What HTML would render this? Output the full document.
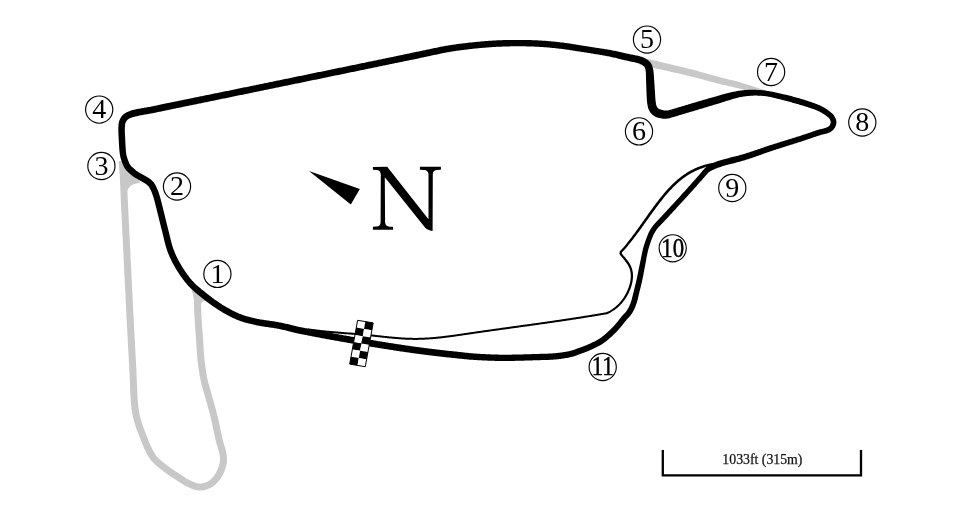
<!DOCTYPE html>
<html><head><meta charset="utf-8"><style>
html,body{margin:0;padding:0;background:#fff;}
body{width:960px;height:511px;overflow:hidden;}
svg{display:block;}
svg{will-change:transform;}
</style></head><body>
<svg width="960" height="511" viewBox="0 0 960 511">
<rect width="960" height="511" fill="#fff"/>
<path d="M118.61,161.28 L118.69,162.27 L118.77,163.25 L118.85,164.22 L118.93,165.18 L119.02,166.13 L119.10,167.08 L119.18,168.04 L119.26,169.00 L119.34,169.98 L119.41,170.97 L119.49,171.99 L119.56,173.03 L119.64,174.10 L119.71,175.22 L119.76,176.06 L119.81,176.91 L119.85,177.76 L119.90,178.62 L119.94,179.48 L119.98,180.35 L120.02,181.23 L120.06,182.13 L120.10,183.03 L120.14,183.95 L120.17,184.88 L120.21,185.82 L120.25,186.79 L120.29,187.77 L120.33,188.77 L120.37,189.80 L120.41,190.84 L120.45,191.91 L120.49,193.00 L120.54,194.12 L120.59,195.27 L120.64,196.45 L120.69,197.65 L120.75,198.89 L120.80,200.16 L120.84,200.89 L120.87,201.63 L120.91,202.40 L120.94,203.18 L120.98,203.97 L121.02,204.78 L121.06,205.61 L121.10,206.46 L121.14,207.32 L121.18,208.19 L121.22,209.08 L121.27,209.98 L121.31,210.89 L121.35,211.82 L121.40,212.76 L121.45,213.71 L121.49,214.67 L121.54,215.65 L121.59,216.63 L121.63,217.63 L121.68,218.64 L121.73,219.65 L121.78,220.68 L121.83,221.71 L121.88,222.75 L121.93,223.80 L121.98,224.85 L122.04,225.92 L122.09,226.99 L122.14,228.06 L122.19,229.14 L122.25,230.23 L122.30,231.32 L122.35,232.42 L122.41,233.52 L122.46,234.62 L122.51,235.73 L122.57,236.83 L122.62,237.95 L122.68,239.06 L122.73,240.17 L122.79,241.29 L122.84,242.40 L122.90,243.52 L122.95,244.64 L123.01,245.75 L123.06,246.86 L123.12,247.98 L123.17,249.09 L123.22,250.19 L123.28,251.30 L123.33,252.40 L123.39,253.50 L123.44,254.59 L123.50,255.68 L123.55,256.76 L123.60,257.84 L123.65,258.92 L123.71,259.98 L123.76,261.04 L123.81,262.09 L123.86,263.14 L123.91,264.18 L123.96,265.21 L124.02,266.23 L124.07,267.24 L124.11,268.24 L124.16,269.23 L124.21,270.21 L124.26,271.18 L124.31,272.13 L124.35,273.08 L124.40,274.01 L124.45,274.94 L124.49,275.84 L124.53,276.74 L124.58,277.62 L124.62,278.49 L124.66,279.34 L124.70,280.17 L124.76,281.33 L124.82,282.48 L124.87,283.60 L124.93,284.71 L124.98,285.80 L125.03,286.87 L125.09,287.93 L125.14,288.98 L125.19,290.01 L125.24,291.03 L125.29,292.04 L125.34,293.04 L125.39,294.03 L125.44,295.01 L125.48,295.98 L125.53,296.95 L125.58,297.91 L125.63,298.86 L125.67,299.81 L125.72,300.75 L125.77,301.70 L125.82,302.64 L125.86,303.57 L125.91,304.51 L125.96,305.45 L126.00,306.39 L126.05,307.34 L126.10,308.28 L126.15,309.23 L126.19,310.19 L126.24,311.15 L126.29,312.11 L126.34,313.09 L126.39,314.07 L126.44,315.06 L126.49,316.06 L126.55,317.07 L126.60,318.10 L126.65,319.13 L126.70,320.18 L126.75,321.13 L126.80,322.10 L126.86,323.08 L126.91,324.08 L126.96,325.09 L127.01,326.11 L127.07,327.14 L127.12,328.18 L127.18,329.23 L127.24,330.28 L127.29,331.35 L127.35,332.42 L127.41,333.50 L127.47,334.58 L127.52,335.67 L127.58,336.76 L127.64,337.86 L127.70,338.95 L127.76,340.05 L127.82,341.15 L127.88,342.24 L127.94,343.34 L128.00,344.43 L128.06,345.52 L128.11,346.61 L128.17,347.69 L128.23,348.77 L128.29,349.84 L128.35,350.90 L128.40,351.96 L128.46,353.01 L128.52,354.04 L128.57,355.07 L128.62,356.09 L128.68,357.09 L128.73,358.08 L128.78,359.06 L128.83,360.03 L128.88,360.97 L128.93,361.91 L128.98,362.82 L129.03,363.72 L129.07,364.60 L129.12,365.46 L129.16,366.30 L129.20,367.12 L129.24,367.92 L129.28,368.69 L129.32,369.44 L129.35,370.17 L129.42,371.46 L129.47,372.69 L129.53,373.85 L129.58,374.95 L129.63,376.01 L129.67,377.03 L129.71,378.01 L129.76,378.98 L129.80,379.93 L129.84,380.87 L129.88,381.82 L129.92,382.77 L129.96,383.74 L130.01,384.74 L130.05,385.76 L130.10,386.80 L130.14,387.84 L130.18,388.90 L130.22,389.96 L130.26,391.02 L130.30,392.09 L130.34,393.16 L130.38,394.23 L130.42,395.30 L130.47,396.37 L130.53,397.43 L130.59,398.49 L130.65,399.54 L130.73,400.58 L130.81,401.60 L130.91,402.71 L131.01,403.81 L131.12,404.90 L131.23,405.98 L131.35,407.06 L131.48,408.13 L131.61,409.19 L131.76,410.25 L131.92,411.31 L132.08,412.36 L132.27,413.42 L132.46,414.47 L132.68,415.55 L132.91,416.62 L133.16,417.67 L133.41,418.72 L133.68,419.76 L133.95,420.79 L134.24,421.81 L134.53,422.83 L134.84,423.84 L135.15,424.85 L135.47,425.87 L135.81,426.91 L136.16,427.94 L136.53,428.96 L136.90,429.98 L137.28,430.98 L137.67,431.98 L138.06,432.98 L138.45,433.97 L138.85,434.97 L139.24,435.97 L139.64,436.97 L140.00,437.90 L140.36,438.85 L140.73,439.82 L141.10,440.81 L141.48,441.81 L141.86,442.82 L142.26,443.83 L142.66,444.85 L143.07,445.86 L143.50,446.87 L143.94,447.88 L144.39,448.87 L144.85,449.83 L145.35,450.83 L145.83,451.82 L146.32,452.80 L146.83,453.79 L147.36,454.79 L147.91,455.78 L148.50,456.78 L149.13,457.77 L149.80,458.77 L150.53,459.76 L151.30,460.73 L152.01,461.54 L152.73,462.33 L153.48,463.10 L154.26,463.84 L155.05,464.57 L155.85,465.29 L156.67,465.99 L157.50,466.67 L158.33,467.35 L159.17,468.01 L160.00,468.66 L160.83,469.30 L161.65,469.93 L162.46,470.56 L163.27,471.18 L164.11,471.82 L164.97,472.46 L165.84,473.09 L166.71,473.71 L167.59,474.33 L168.47,474.94 L169.36,475.54 L170.24,476.13 L171.12,476.72 L171.99,477.30 L172.85,477.86 L173.71,478.42 L174.55,478.97 L175.38,479.51 L176.18,480.03 L177.12,480.65 L178.04,481.26 L178.96,481.88 L179.88,482.51 L180.80,483.12 L181.75,483.74 L182.71,484.34 L183.69,484.94 L184.71,485.51 L185.76,486.06 L186.81,486.57 L187.83,487.04 L188.86,487.51 L189.93,487.98 L191.03,488.44 L192.16,488.89 L193.33,489.31 L194.53,489.69 L195.76,490.01 L197.04,490.27 L198.34,490.43 L199.65,490.50 L200.85,490.47 L202.02,490.38 L203.19,490.23 L204.36,490.01 L205.52,489.75 L206.68,489.42 L207.82,489.05 L208.94,488.62 L210.03,488.15 L211.10,487.62 L212.14,487.04 L213.15,486.41 L214.11,485.72 L215.03,484.97 L215.91,484.17 L216.74,483.33 L217.54,482.46 L218.30,481.56 L219.03,480.64 L219.72,479.70 L220.37,478.75 L221.00,477.80 L221.59,476.86 L222.14,475.92 L222.67,474.98 L223.20,473.98 L223.70,472.95 L224.17,471.90 L224.61,470.83 L225.02,469.75 L225.39,468.67 L225.73,467.58 L226.03,466.50 L226.30,465.42 L226.53,464.35 L226.72,463.29 L226.88,462.21 L227.00,460.87 L227.05,459.53 L227.02,458.24 L226.93,456.98 L226.80,455.77 L226.63,454.59 L226.44,453.43 L226.24,452.26 L226.00,451.08 L225.71,449.89 L225.38,448.71 L225.04,447.57 L224.69,446.46 L224.34,445.39 L224.02,444.38 L223.72,443.44 L223.47,442.56 L223.16,441.42 L222.89,440.40 L222.64,439.41 L222.37,438.32 L222.06,437.00 L221.89,436.28 L221.72,435.49 L221.54,434.65 L221.35,433.74 L221.15,432.79 L220.95,431.80 L220.74,430.77 L220.52,429.71 L220.31,428.63 L220.08,427.52 L219.85,426.40 L219.62,425.27 L219.38,424.13 L219.14,423.00 L218.90,421.86 L218.65,420.74 L218.41,419.63 L218.15,418.54 L217.90,417.48 L217.66,416.48 L217.41,415.48 L217.16,414.49 L216.90,413.49 L216.64,412.50 L216.37,411.51 L216.11,410.52 L215.84,409.53 L215.56,408.54 L215.29,407.56 L215.02,406.58 L214.74,405.59 L214.47,404.61 L214.20,403.63 L213.92,402.66 L213.65,401.68 L213.38,400.70 L213.11,399.73 L212.84,398.76 L212.58,397.78 L212.31,396.79 L212.03,395.79 L211.75,394.80 L211.47,393.82 L211.18,392.83 L210.90,391.85 L210.61,390.87 L210.33,389.89 L210.05,388.92 L209.77,387.95 L209.49,386.98 L209.22,386.02 L208.96,385.05 L208.70,384.09 L208.45,383.14 L208.20,382.18 L207.97,381.23 L207.74,380.28 L207.53,379.33 L207.33,378.38 L207.12,377.39 L206.93,376.39 L206.74,375.40 L206.56,374.40 L206.38,373.40 L206.22,372.39 L206.06,371.39 L205.90,370.38 L205.75,369.38 L205.60,368.37 L205.46,367.36 L205.33,366.34 L205.20,365.33 L205.07,364.32 L204.95,363.30 L204.83,362.28 L204.71,361.26 L204.59,360.24 L204.48,359.22 L204.37,358.22 L204.27,357.22 L204.18,356.22 L204.10,355.22 L204.02,354.22 L203.94,353.22 L203.87,352.21 L203.80,351.21 L203.74,350.20 L203.67,349.18 L203.61,348.16 L203.55,347.14 L203.49,346.10 L203.43,345.07 L203.37,344.02 L203.30,342.97 L203.24,341.91 L203.17,340.83 L203.09,339.76 L203.02,338.79 L202.95,337.81 L202.88,336.82 L202.81,335.83 L202.73,334.83 L202.66,333.83 L202.59,332.83 L202.51,331.81 L202.43,330.80 L202.36,329.79 L202.29,328.77 L202.21,327.75 L202.14,326.74 L202.07,325.72 L201.99,324.71 L201.93,323.70 L201.86,322.70 L201.79,321.70 L201.73,320.71 L201.66,319.72 L201.61,318.74 L201.55,317.77 L201.49,316.81 L201.44,315.78 L201.39,314.75 L201.34,313.70 L201.30,312.64 L201.26,311.58 L201.22,310.52 L201.18,309.46 L201.14,308.40 L201.11,307.35 L201.07,306.31 L201.04,305.27 L201.01,304.25 L200.97,303.24 L200.94,302.25 L200.90,301.28 L200.87,300.33 L200.83,299.41 L200.78,298.51 L200.74,297.63 L200.69,296.79 L200.62,295.61 L200.54,294.51 L200.47,293.47 L200.39,292.47 L200.31,291.51 L200.23,290.57 L200.15,289.64 L200.07,288.70 L199.99,287.72 L193.01,288.28 L193.09,289.27 L193.17,290.23 L193.25,291.17 L193.33,292.10 L193.41,293.04 L193.49,294.01 L193.56,295.01 L193.64,296.07 L193.71,297.21 L193.75,298.01 L193.79,298.84 L193.83,299.71 L193.87,300.61 L193.91,301.55 L193.94,302.50 L193.98,303.48 L194.01,304.48 L194.04,305.50 L194.08,306.53 L194.11,307.58 L194.15,308.64 L194.18,309.71 L194.22,310.78 L194.26,311.85 L194.30,312.93 L194.35,314.00 L194.40,315.07 L194.45,316.14 L194.51,317.19 L194.56,318.17 L194.62,319.16 L194.68,320.15 L194.74,321.15 L194.81,322.16 L194.87,323.17 L194.94,324.18 L195.01,325.20 L195.08,326.22 L195.16,327.24 L195.23,328.26 L195.30,329.28 L195.38,330.30 L195.45,331.32 L195.53,332.33 L195.60,333.34 L195.68,334.35 L195.75,335.35 L195.83,336.35 L195.90,337.33 L195.97,338.31 L196.04,339.28 L196.11,340.24 L196.18,341.30 L196.25,342.35 L196.32,343.40 L196.38,344.44 L196.44,345.48 L196.50,346.52 L196.56,347.55 L196.62,348.58 L196.69,349.61 L196.75,350.64 L196.82,351.67 L196.89,352.70 L196.96,353.73 L197.04,354.76 L197.12,355.80 L197.21,356.84 L197.31,357.88 L197.41,358.93 L197.52,359.98 L197.64,361.02 L197.75,362.06 L197.87,363.10 L198.00,364.14 L198.12,365.18 L198.25,366.22 L198.39,367.26 L198.53,368.30 L198.67,369.35 L198.82,370.39 L198.98,371.43 L199.14,372.48 L199.31,373.53 L199.48,374.57 L199.67,375.62 L199.86,376.67 L200.05,377.72 L200.26,378.77 L200.47,379.82 L200.69,380.84 L200.92,381.86 L201.16,382.87 L201.41,383.88 L201.67,384.89 L201.93,385.89 L202.20,386.89 L202.48,387.89 L202.75,388.88 L203.04,389.87 L203.32,390.86 L203.60,391.84 L203.89,392.83 L204.17,393.80 L204.46,394.78 L204.74,395.75 L205.02,396.72 L205.29,397.69 L205.56,398.65 L205.82,399.62 L206.09,400.60 L206.36,401.59 L206.63,402.57 L206.91,403.56 L207.18,404.54 L207.45,405.52 L207.73,406.50 L208.00,407.48 L208.28,408.46 L208.55,409.43 L208.82,410.41 L209.08,411.38 L209.35,412.35 L209.61,413.32 L209.87,414.29 L210.12,415.26 L210.38,416.23 L210.62,417.19 L210.86,418.16 L211.10,419.12 L211.34,420.14 L211.58,421.18 L211.82,422.25 L212.06,423.35 L212.30,424.45 L212.53,425.57 L212.76,426.69 L212.99,427.81 L213.22,428.92 L213.44,430.02 L213.66,431.10 L213.88,432.17 L214.09,433.20 L214.29,434.21 L214.50,435.17 L214.69,436.10 L214.88,436.98 L215.06,437.82 L215.24,438.60 L215.56,439.96 L215.85,441.11 L216.12,442.17 L216.40,443.23 L216.73,444.44 L217.02,445.44 L217.34,446.49 L217.68,447.54 L218.02,448.59 L218.35,449.64 L218.66,450.66 L218.94,451.66 L219.17,452.61 L219.36,453.54 L219.54,454.59 L219.71,455.63 L219.85,456.64 L219.96,457.61 L220.02,458.56 L220.05,459.49 L220.02,460.42 L219.92,461.39 L219.81,462.16 L219.66,462.99 L219.48,463.84 L219.26,464.71 L219.01,465.60 L218.74,466.49 L218.43,467.38 L218.10,468.26 L217.74,469.14 L217.36,469.99 L216.96,470.81 L216.53,471.62 L216.08,472.41 L215.60,473.22 L215.10,474.03 L214.57,474.84 L214.02,475.63 L213.46,476.39 L212.87,477.13 L212.28,477.84 L211.68,478.50 L211.07,479.11 L210.46,479.67 L209.85,480.16 L209.25,480.59 L208.58,481.01 L207.85,481.42 L207.09,481.79 L206.30,482.14 L205.48,482.45 L204.64,482.73 L203.79,482.96 L202.95,483.16 L202.11,483.31 L201.29,483.42 L200.49,483.48 L199.75,483.50 L198.97,483.46 L198.18,483.36 L197.34,483.19 L196.47,482.96 L195.56,482.68 L194.63,482.34 L193.68,481.97 L192.71,481.56 L191.73,481.12 L190.75,480.67 L189.79,480.23 L188.90,479.81 L188.06,479.36 L187.22,478.89 L186.37,478.38 L185.52,477.84 L184.66,477.28 L183.78,476.69 L182.88,476.09 L181.95,475.46 L181.00,474.82 L180.02,474.17 L179.19,473.64 L178.37,473.10 L177.53,472.55 L176.68,472.00 L175.84,471.45 L174.98,470.88 L174.13,470.32 L173.28,469.74 L172.43,469.17 L171.59,468.59 L170.75,468.00 L169.93,467.41 L169.12,466.82 L168.32,466.23 L167.53,465.62 L166.73,465.01 L165.92,464.38 L165.10,463.76 L164.30,463.13 L163.50,462.51 L162.71,461.88 L161.94,461.26 L161.18,460.63 L160.45,460.00 L159.74,459.38 L159.06,458.75 L158.41,458.13 L157.80,457.50 L157.22,456.88 L156.70,456.27 L156.09,455.50 L155.52,454.73 L154.98,453.94 L154.47,453.13 L153.98,452.30 L153.50,451.44 L153.04,450.56 L152.57,449.65 L152.10,448.71 L151.63,447.74 L151.15,446.77 L150.73,445.90 L150.33,445.02 L149.93,444.11 L149.54,443.18 L149.15,442.24 L148.77,441.27 L148.39,440.30 L148.02,439.32 L147.65,438.33 L147.28,437.35 L146.90,436.37 L146.53,435.39 L146.16,434.43 L145.76,433.40 L145.36,432.39 L144.96,431.39 L144.57,430.41 L144.19,429.44 L143.82,428.48 L143.46,427.52 L143.11,426.57 L142.77,425.63 L142.44,424.68 L142.13,423.73 L141.83,422.77 L141.53,421.81 L141.25,420.85 L140.97,419.90 L140.70,418.94 L140.45,417.98 L140.20,417.02 L139.97,416.06 L139.75,415.09 L139.53,414.12 L139.34,413.13 L139.16,412.17 L138.99,411.21 L138.83,410.24 L138.69,409.26 L138.55,408.27 L138.43,407.27 L138.31,406.26 L138.19,405.24 L138.09,404.20 L137.98,403.15 L137.88,402.08 L137.79,401.00 L137.71,400.04 L137.64,399.06 L137.57,398.06 L137.52,397.06 L137.46,396.03 L137.42,395.00 L137.37,393.95 L137.33,392.90 L137.29,391.84 L137.25,390.77 L137.22,389.71 L137.18,388.64 L137.14,387.57 L137.09,386.50 L137.05,385.44 L137.00,384.42 L136.96,383.43 L136.91,382.46 L136.87,381.52 L136.83,380.57 L136.79,379.63 L136.75,378.68 L136.71,377.71 L136.66,376.72 L136.62,375.70 L136.57,374.63 L136.52,373.52 L136.47,372.36 L136.41,371.13 L136.35,369.83 L136.31,369.10 L136.27,368.34 L136.23,367.57 L136.19,366.77 L136.15,365.94 L136.11,365.10 L136.06,364.24 L136.02,363.36 L135.97,362.46 L135.92,361.54 L135.87,360.61 L135.82,359.66 L135.77,358.69 L135.72,357.71 L135.67,356.72 L135.61,355.71 L135.56,354.70 L135.51,353.67 L135.45,352.63 L135.39,351.58 L135.34,350.53 L135.28,349.46 L135.22,348.39 L135.16,347.32 L135.10,346.23 L135.05,345.15 L134.99,344.06 L134.93,342.96 L134.87,341.87 L134.81,340.77 L134.75,339.67 L134.69,338.58 L134.63,337.48 L134.57,336.39 L134.51,335.29 L134.46,334.21 L134.40,333.12 L134.34,332.05 L134.28,330.97 L134.23,329.91 L134.17,328.85 L134.11,327.80 L134.06,326.77 L134.00,325.74 L133.95,324.72 L133.90,323.71 L133.85,322.72 L133.79,321.74 L133.74,320.77 L133.70,319.82 L133.64,318.77 L133.59,317.74 L133.54,316.71 L133.48,315.70 L133.43,314.70 L133.38,313.71 L133.33,312.73 L133.28,311.76 L133.23,310.79 L133.19,309.83 L133.14,308.88 L133.09,307.93 L133.04,306.98 L132.99,306.04 L132.95,305.10 L132.90,304.16 L132.85,303.23 L132.81,302.29 L132.76,301.35 L132.71,300.41 L132.67,299.46 L132.62,298.51 L132.57,297.56 L132.52,296.60 L132.48,295.64 L132.43,294.66 L132.38,293.68 L132.33,292.70 L132.28,291.70 L132.23,290.69 L132.18,289.67 L132.13,288.63 L132.08,287.59 L132.03,286.53 L131.97,285.45 L131.92,284.36 L131.86,283.26 L131.81,282.13 L131.75,280.99 L131.70,279.83 L131.65,278.99 L131.61,278.14 L131.57,277.27 L131.53,276.39 L131.48,275.50 L131.44,274.59 L131.39,273.67 L131.35,272.74 L131.30,271.79 L131.25,270.83 L131.20,269.86 L131.16,268.88 L131.11,267.89 L131.06,266.89 L131.01,265.88 L130.96,264.86 L130.91,263.83 L130.85,262.79 L130.80,261.75 L130.75,260.70 L130.70,259.64 L130.65,258.57 L130.59,257.50 L130.54,256.42 L130.49,255.34 L130.43,254.25 L130.38,253.15 L130.32,252.06 L130.27,250.95 L130.22,249.85 L130.16,248.74 L130.11,247.63 L130.05,246.52 L130.00,245.41 L129.94,244.29 L129.89,243.18 L129.83,242.06 L129.78,240.95 L129.72,239.83 L129.67,238.72 L129.61,237.60 L129.56,236.49 L129.51,235.38 L129.45,234.28 L129.40,233.17 L129.34,232.08 L129.29,230.98 L129.24,229.89 L129.18,228.80 L129.13,227.72 L129.08,226.65 L129.03,225.58 L128.98,224.51 L128.92,223.46 L128.87,222.41 L128.82,221.37 L128.77,220.34 L128.72,219.31 L128.67,218.30 L128.63,217.29 L128.58,216.30 L128.53,215.31 L128.48,214.34 L128.44,213.38 L128.39,212.42 L128.35,211.48 L128.30,210.56 L128.26,209.64 L128.22,208.74 L128.17,207.86 L128.13,206.98 L128.09,206.13 L128.05,205.28 L128.01,204.45 L127.97,203.64 L127.94,202.85 L127.90,202.07 L127.86,201.31 L127.83,200.56 L127.80,199.84 L127.74,198.58 L127.68,197.35 L127.63,196.15 L127.58,194.98 L127.53,193.84 L127.49,192.72 L127.44,191.63 L127.40,190.56 L127.36,189.52 L127.32,188.50 L127.28,187.50 L127.24,186.51 L127.21,185.55 L127.17,184.59 L127.13,183.66 L127.09,182.73 L127.05,181.82 L127.01,180.92 L126.97,180.03 L126.93,179.14 L126.89,178.26 L126.84,177.39 L126.79,176.52 L126.75,175.65 L126.69,174.78 L126.62,173.65 L126.55,172.55 L126.47,171.48 L126.39,170.44 L126.31,169.42 L126.23,168.43 L126.15,167.46 L126.07,166.49 L125.99,165.54 L125.91,164.58 L125.83,163.63 L125.75,162.67 L125.67,161.71 L125.59,160.72Z" fill="#c8c8c8"/>
<path d="M639.18,64.56 L640.18,64.79 L641.16,65.01 L642.14,65.24 L643.12,65.46 L644.09,65.68 L645.06,65.91 L646.02,66.13 L646.99,66.35 L647.96,66.57 L648.93,66.79 L649.91,67.02 L650.89,67.25 L651.88,67.47 L652.89,67.70 L653.90,67.94 L654.92,68.17 L655.96,68.41 L657.01,68.66 L658.09,68.90 L659.18,69.16 L660.09,69.36 L661.01,69.57 L661.94,69.77 L662.89,69.98 L663.85,70.19 L664.81,70.41 L665.79,70.62 L666.77,70.84 L667.76,71.06 L668.76,71.28 L669.77,71.50 L670.78,71.72 L671.79,71.95 L672.81,72.18 L673.84,72.40 L674.86,72.63 L675.89,72.86 L676.92,73.09 L677.95,73.33 L678.98,73.56 L680.02,73.80 L681.05,74.03 L682.07,74.27 L683.10,74.51 L684.12,74.74 L685.14,74.98 L686.15,75.22 L687.16,75.46 L688.17,75.70 L689.16,75.95 L690.13,76.19 L691.10,76.43 L692.09,76.68 L693.08,76.93 L694.08,77.19 L695.08,77.45 L696.09,77.71 L697.10,77.98 L698.12,78.25 L699.14,78.52 L700.15,78.79 L701.17,79.06 L702.19,79.34 L703.20,79.61 L704.21,79.88 L705.22,80.16 L706.22,80.43 L707.22,80.70 L708.20,80.96 L709.18,81.23 L710.16,81.49 L711.12,81.75 L712.07,82.00 L713.01,82.25 L713.94,82.50 L714.85,82.74 L715.75,82.97 L716.63,83.20 L717.50,83.42 L718.35,83.64 L719.19,83.85 L720.31,84.13 L721.41,84.39 L722.47,84.64 L723.51,84.89 L724.51,85.12 L725.50,85.34 L726.47,85.56 L727.42,85.78 L728.36,85.99 L729.28,86.20 L730.20,86.41 L731.12,86.62 L732.03,86.83 L732.95,87.05 L733.87,87.27 L734.81,87.50 L735.86,87.74 L736.92,87.99 L737.99,88.25 L739.07,88.51 L740.15,88.78 L741.23,89.04 L742.30,89.31 L743.36,89.57 L744.41,89.83 L745.44,90.09 L746.44,90.34 L747.42,90.57 L748.38,90.80 L749.29,91.01 L750.42,91.23 L751.50,91.44 L752.54,91.64 L753.55,91.83 L754.55,92.01 L755.53,92.18 L756.52,92.35 L757.52,92.50 L758.60,92.58 L759.66,92.64 L760.70,92.69 L761.73,92.72 L762.75,92.76 L763.76,92.79 L764.78,92.83 L765.22,90.37 L764.25,90.05 L763.28,89.73 L762.31,89.42 L761.35,89.10 L760.40,88.78 L759.44,88.45 L758.48,88.10 L757.56,87.82 L756.64,87.54 L755.73,87.25 L754.80,86.94 L753.84,86.62 L752.85,86.29 L751.80,85.95 L750.71,85.59 L749.83,85.33 L748.91,85.05 L747.96,84.77 L746.98,84.47 L745.97,84.16 L744.95,83.85 L743.90,83.53 L742.84,83.21 L741.77,82.88 L740.69,82.56 L739.61,82.23 L738.53,81.92 L737.46,81.60 L736.39,81.30 L735.43,81.05 L734.48,80.81 L733.54,80.57 L732.61,80.34 L731.68,80.12 L730.76,79.89 L729.83,79.67 L728.89,79.45 L727.95,79.22 L726.99,78.99 L726.02,78.76 L725.03,78.51 L724.02,78.27 L722.98,78.01 L721.91,77.74 L720.81,77.45 L720.00,77.24 L719.17,77.02 L718.32,76.79 L717.45,76.56 L716.57,76.32 L715.67,76.07 L714.75,75.82 L713.82,75.56 L712.88,75.30 L711.93,75.03 L710.96,74.76 L709.99,74.49 L709.00,74.21 L708.01,73.93 L707.01,73.65 L706.00,73.37 L704.99,73.09 L703.98,72.81 L702.96,72.52 L701.94,72.24 L700.92,71.95 L699.90,71.67 L698.88,71.39 L697.86,71.11 L696.84,70.84 L695.82,70.56 L694.82,70.29 L693.81,70.03 L692.81,69.76 L691.82,69.51 L690.84,69.25 L689.83,69.00 L688.82,68.74 L687.80,68.48 L686.78,68.23 L685.75,67.97 L684.72,67.72 L683.69,67.46 L682.66,67.21 L681.62,66.96 L680.59,66.71 L679.55,66.46 L678.52,66.22 L677.48,65.97 L676.45,65.73 L675.42,65.48 L674.40,65.24 L673.38,65.00 L672.36,64.76 L671.35,64.53 L670.35,64.29 L669.36,64.06 L668.37,63.83 L667.39,63.60 L666.42,63.37 L665.46,63.14 L664.51,62.92 L663.57,62.70 L662.64,62.48 L661.72,62.26 L660.82,62.04 L659.73,61.79 L658.66,61.54 L657.60,61.30 L656.56,61.06 L655.54,60.82 L654.52,60.59 L653.52,60.36 L652.53,60.13 L651.54,59.90 L650.56,59.68 L649.59,59.46 L648.62,59.23 L647.66,59.01 L646.69,58.79 L645.72,58.57 L644.75,58.35 L643.78,58.12 L642.80,57.90 L641.81,57.67 L640.82,57.44Z" fill="#c8c8c8"/>
<path d="M119.8,161 L120.0,176 L121.0,186 L126.8,194 C127.0,188 131.0,183.5 140.5,182.8 L128,167 Z" fill="#c8c8c8"/>
<path d="M190.5,287 L193.5,296 L194.5,305 L201,305 C201,302 204,300 208,300 L196,286 Z" fill="#c8c8c8"/>
<path d="M125.79,149.72 L125.72,148.89 L125.66,148.00 L125.60,147.07 L125.54,146.09 L125.49,145.09 L125.44,144.06 L125.39,143.01 L125.34,141.95 L125.29,140.90 L125.25,139.84 L125.20,138.86 L125.14,137.84 L125.09,136.80 L125.03,135.76 L124.97,134.71 L124.92,133.67 L124.88,132.65 L124.84,131.65 L124.82,130.70 L124.81,129.78 L124.82,128.93 L124.85,128.13 L124.91,126.99 L124.97,125.95 L125.05,125.03 L125.16,124.23 L125.31,123.54 L125.51,122.91 L125.83,122.15 L126.21,121.42 L126.64,120.75 L127.10,120.15 L127.58,119.65 L128.16,119.19 L128.87,118.75 L129.73,118.31 L130.72,117.88 L131.73,117.47 L132.59,117.16 L133.47,116.89 L134.44,116.65 L135.48,116.41 L136.58,116.17 L137.72,115.92 L138.66,115.72 L139.64,115.52 L140.64,115.33 L141.67,115.14 L142.69,114.96 L143.70,114.78 L144.67,114.61 L145.58,114.45 L146.58,114.28 L147.47,114.13 L148.37,113.99 L149.40,113.82 L150.62,113.59 L151.33,113.46 L152.06,113.32 L152.82,113.16 L153.61,113.00 L154.44,112.84 L155.29,112.66 L156.18,112.47 L157.10,112.28 L158.05,112.08 L159.04,111.87 L160.05,111.66 L161.10,111.44 L162.19,111.21 L163.30,110.97 L164.45,110.73 L165.63,110.48 L166.85,110.23 L168.09,109.97 L169.37,109.70 L170.69,109.43 L171.35,109.29 L172.03,109.15 L172.71,109.01 L173.41,108.87 L174.12,108.72 L174.85,108.57 L175.58,108.42 L176.32,108.26 L177.08,108.11 L177.85,107.95 L178.62,107.79 L179.41,107.63 L180.21,107.46 L181.02,107.30 L181.83,107.13 L182.66,106.96 L183.50,106.79 L184.35,106.61 L185.20,106.44 L186.07,106.26 L186.94,106.08 L187.83,105.90 L188.72,105.71 L189.62,105.53 L190.53,105.34 L191.45,105.15 L192.38,104.96 L193.31,104.77 L194.26,104.57 L195.21,104.38 L196.17,104.18 L197.13,103.98 L198.11,103.78 L199.09,103.58 L200.07,103.38 L201.07,103.18 L202.07,102.97 L203.08,102.76 L204.09,102.56 L205.11,102.35 L206.14,102.13 L207.18,101.92 L208.22,101.71 L209.26,101.49 L210.31,101.28 L211.37,101.06 L212.43,100.84 L213.50,100.63 L214.57,100.41 L215.65,100.18 L216.73,99.96 L217.81,99.74 L218.91,99.52 L220.00,99.29 L221.10,99.06 L222.20,98.84 L223.31,98.61 L224.42,98.38 L225.54,98.15 L226.65,97.92 L227.78,97.69 L228.90,97.46 L230.03,97.23 L231.16,97.00 L232.29,96.77 L233.43,96.53 L234.57,96.30 L235.71,96.06 L236.85,95.83 L237.99,95.59 L239.14,95.36 L240.29,95.12 L241.44,94.88 L242.59,94.65 L243.74,94.41 L244.90,94.17 L246.05,93.93 L247.21,93.70 L248.36,93.46 L249.52,93.22 L250.67,92.98 L251.49,92.81 L252.32,92.64 L253.16,92.47 L254.01,92.30 L254.86,92.12 L255.73,91.94 L256.60,91.76 L257.48,91.58 L258.38,91.40 L259.28,91.21 L260.19,91.03 L261.10,90.84 L262.03,90.65 L262.96,90.45 L263.90,90.26 L264.85,90.06 L265.81,89.87 L266.77,89.67 L267.75,89.47 L268.72,89.27 L269.71,89.07 L270.70,88.86 L271.70,88.66 L272.71,88.45 L273.72,88.24 L274.74,88.03 L275.76,87.82 L276.79,87.61 L277.83,87.39 L278.87,87.18 L279.92,86.96 L280.97,86.75 L282.03,86.53 L283.10,86.31 L284.16,86.09 L285.24,85.87 L286.32,85.65 L287.40,85.42 L288.49,85.20 L289.58,84.98 L290.67,84.75 L291.77,84.52 L292.88,84.30 L293.98,84.07 L295.09,83.84 L296.21,83.61 L297.32,83.38 L298.45,83.15 L299.57,82.92 L300.69,82.69 L301.82,82.45 L302.96,82.22 L304.09,81.99 L305.23,81.75 L306.36,81.52 L307.50,81.28 L308.65,81.05 L309.79,80.81 L310.93,80.58 L312.08,80.34 L313.23,80.11 L314.38,79.87 L315.53,79.63 L316.68,79.39 L317.83,79.16 L318.98,78.92 L320.13,78.68 L321.29,78.45 L322.44,78.21 L323.59,77.97 L324.75,77.73 L325.90,77.50 L327.05,77.26 L328.20,77.02 L329.35,76.78 L330.50,76.55 L331.65,76.31 L332.80,76.07 L333.94,75.84 L335.09,75.60 L336.23,75.37 L337.37,75.13 L338.51,74.90 L339.64,74.66 L340.78,74.43 L341.91,74.19 L343.04,73.96 L344.17,73.73 L345.29,73.50 L346.42,73.27 L347.53,73.03 L348.65,72.80 L349.76,72.58 L350.87,72.35 L351.97,72.12 L353.08,71.89 L354.17,71.67 L355.27,71.44 L356.35,71.22 L357.44,70.99 L358.52,70.77 L359.59,70.55 L360.66,70.33 L361.73,70.11 L362.79,69.89 L363.85,69.67 L364.90,69.45 L365.94,69.24 L366.98,69.02 L368.01,68.81 L369.04,68.60 L370.06,68.39 L371.07,68.18 L372.08,67.97 L373.08,67.76 L374.08,67.56 L375.07,67.35 L376.05,67.15 L377.02,66.95 L377.99,66.75 L378.95,66.55 L379.90,66.35 L380.85,66.16 L381.78,65.97 L382.71,65.77 L383.63,65.58 L384.54,65.39 L385.45,65.21 L386.34,65.02 L387.23,64.84 L388.11,64.66 L388.98,64.48 L389.84,64.30 L390.69,64.12 L391.53,63.95 L392.36,63.78 L393.18,63.61 L393.99,63.44 L394.80,63.27 L395.59,63.11 L396.37,62.95 L397.14,62.79 L397.90,62.63 L398.65,62.48 L399.39,62.32 L400.12,62.17 L400.84,62.02 L401.54,61.88 L402.24,61.73 L402.92,61.59 L403.59,61.45 L404.25,61.32 L404.90,61.18 L405.53,61.05 L406.16,60.92 L406.77,60.79 L407.37,60.67 L407.95,60.55 L408.52,60.43 L409.08,60.31 L409.63,60.20 L410.16,60.09 L410.68,59.98 L412.12,59.68 L413.47,59.40 L414.73,59.13 L415.93,58.88 L417.06,58.65 L418.14,58.42 L419.16,58.20 L420.13,58.00 L421.06,57.80 L421.97,57.61 L422.84,57.42 L423.70,57.24 L424.55,57.06 L425.39,56.89 L426.23,56.71 L427.08,56.53 L427.94,56.35 L428.82,56.17 L429.73,55.98 L430.68,55.78 L431.75,55.55 L432.81,55.33 L433.87,55.10 L434.92,54.87 L435.96,54.64 L436.99,54.42 L438.02,54.20 L439.04,53.97 L440.06,53.76 L441.08,53.54 L442.09,53.33 L443.10,53.12 L444.11,52.91 L445.12,52.72 L446.14,52.52 L447.15,52.33 L448.17,52.15 L449.18,51.98 L450.18,51.80 L451.18,51.64 L452.18,51.48 L453.17,51.32 L454.17,51.17 L455.16,51.02 L456.16,50.87 L457.16,50.73 L458.17,50.59 L459.19,50.45 L460.22,50.31 L461.26,50.17 L462.31,50.04 L463.39,49.90 L464.48,49.76 L465.59,49.63 L466.53,49.51 L467.49,49.40 L468.47,49.29 L469.45,49.18 L470.45,49.06 L471.46,48.95 L472.47,48.84 L473.50,48.73 L474.53,48.62 L475.56,48.51 L476.61,48.41 L477.66,48.30 L478.71,48.20 L479.76,48.10 L480.81,48.00 L481.87,47.90 L482.92,47.81 L483.98,47.72 L485.03,47.63 L486.08,47.55 L487.12,47.46 L488.16,47.39 L489.19,47.31 L490.22,47.24 L491.23,47.17 L492.25,47.11 L493.27,47.04 L494.28,46.98 L495.30,46.93 L496.31,46.87 L497.33,46.82 L498.34,46.77 L499.35,46.72 L500.37,46.67 L501.38,46.63 L502.40,46.59 L503.41,46.55 L504.43,46.51 L505.44,46.48 L506.46,46.45 L507.47,46.42 L508.49,46.40 L509.51,46.38 L510.53,46.36 L511.55,46.34 L512.57,46.32 L513.60,46.31 L514.62,46.30 L515.62,46.29 L516.63,46.29 L517.64,46.29 L518.65,46.29 L519.66,46.30 L520.68,46.30 L521.70,46.31 L522.71,46.32 L523.73,46.33 L524.75,46.35 L525.77,46.37 L526.79,46.39 L527.81,46.41 L528.82,46.44 L529.84,46.47 L530.85,46.50 L531.86,46.53 L532.87,46.57 L533.87,46.60 L534.87,46.65 L535.87,46.69 L536.86,46.74 L537.85,46.79 L538.84,46.84 L539.81,46.89 L540.86,46.96 L541.91,47.02 L542.95,47.10 L544.00,47.17 L545.04,47.25 L546.09,47.33 L547.13,47.41 L548.17,47.50 L549.20,47.59 L550.23,47.69 L551.26,47.78 L552.29,47.88 L553.31,47.98 L554.32,48.09 L555.33,48.19 L556.34,48.30 L557.34,48.41 L558.33,48.52 L559.31,48.63 L560.29,48.75 L561.25,48.86 L562.21,48.98 L563.29,49.11 L564.36,49.25 L565.42,49.39 L566.48,49.54 L567.52,49.69 L568.57,49.85 L569.60,50.01 L570.63,50.17 L571.65,50.33 L572.67,50.49 L573.69,50.65 L574.70,50.81 L575.70,50.98 L576.71,51.14 L577.71,51.30 L578.71,51.46 L579.71,51.61 L580.81,51.78 L581.89,51.95 L582.96,52.12 L584.02,52.28 L585.08,52.45 L586.13,52.62 L587.17,52.78 L588.21,52.95 L589.25,53.11 L590.30,53.28 L591.34,53.45 L592.38,53.62 L593.43,53.79 L594.49,53.96 L595.49,54.13 L596.48,54.29 L597.46,54.45 L598.44,54.61 L599.42,54.77 L600.39,54.93 L601.37,55.09 L602.34,55.25 L603.32,55.42 L604.30,55.59 L605.29,55.76 L606.29,55.95 L607.30,56.13 L608.33,56.33 L609.37,56.54 L610.29,56.73 L611.25,56.94 L612.24,57.16 L613.26,57.39 L614.29,57.63 L615.34,57.87 L616.41,58.12 L617.48,58.38 L618.55,58.63 L619.62,58.89 L620.68,59.15 L621.74,59.41 L622.77,59.66 L623.79,59.91 L624.79,60.15 L625.75,60.39 L626.68,60.61 L627.58,60.83 L628.44,61.03 L629.26,61.22 L630.48,61.48 L631.62,61.72 L632.68,61.92 L633.66,62.11 L634.57,62.30 L635.42,62.49 L636.22,62.69 L637.01,62.91 L638.14,63.26 L639.19,63.61 L640.13,63.96 L640.97,64.33 L641.75,64.75 L642.48,65.20 L643.17,65.69 L643.76,66.15 L644.20,66.59 L644.52,67.00 L644.76,67.41 L644.97,67.91 L645.17,68.54 L645.38,69.35 L645.59,70.31 L645.69,71.00 L645.78,71.78 L645.84,72.66 L645.89,73.62 L645.93,74.64 L645.95,75.72 L645.97,76.83 L645.99,77.96 L646.02,79.11 L646.06,80.24 L646.10,81.28 L646.14,82.32 L646.18,83.37 L646.21,84.44 L646.24,85.51 L646.28,86.59 L646.31,87.67 L646.34,88.75 L646.38,89.83 L646.42,90.90 L646.46,91.94 L646.51,92.98 L646.56,94.03 L646.60,95.09 L646.65,96.16 L646.70,97.24 L646.76,98.31 L646.83,99.38 L646.91,100.44 L647.02,101.48 L647.14,102.47 L647.30,103.65 L647.47,104.83 L647.67,106.07 L647.95,107.37 L648.36,108.73 L648.94,110.10 L649.70,111.45 L650.57,112.69 L651.55,113.84 L652.64,114.89 L653.88,115.85 L655.28,116.66 L656.71,117.27 L658.09,117.71 L659.39,118.05 L660.66,118.32 L661.99,118.51 L663.36,118.64 L664.72,118.70 L666.05,118.68 L667.31,118.59 L668.42,118.42 L669.38,118.18 L670.15,117.94 L671.04,117.66 L671.56,117.52 L672.18,117.35 L672.85,117.16 L673.59,116.95 L674.37,116.72 L675.21,116.48 L676.09,116.22 L677.01,115.95 L677.97,115.67 L678.96,115.37 L679.99,115.07 L681.04,114.76 L682.11,114.43 L683.19,114.11 L684.29,113.78 L685.40,113.44 L686.52,113.11 L687.64,112.77 L688.75,112.44 L689.86,112.11 L690.95,111.78 L692.03,111.45 L693.09,111.14 L694.12,110.83 L695.13,110.53 L696.11,110.24 L697.08,109.95 L698.06,109.65 L699.06,109.35 L700.06,109.05 L701.08,108.75 L702.10,108.44 L703.13,108.13 L704.16,107.82 L705.19,107.51 L706.23,107.20 L707.25,106.89 L708.28,106.58 L709.30,106.28 L710.31,105.97 L711.31,105.67 L712.29,105.38 L713.27,105.08 L714.22,104.80 L715.16,104.51 L716.08,104.24 L716.98,103.97 L717.85,103.71 L718.70,103.45 L719.52,103.21 L720.31,102.97 L721.07,102.75 L722.25,102.37 L723.36,102.02 L724.40,101.68 L725.38,101.36 L726.32,101.05 L727.23,100.76 L728.13,100.47 L729.03,100.19 L729.95,99.91 L730.90,99.63 L731.88,99.35 L732.86,99.06 L733.84,98.79 L734.81,98.51 L735.77,98.25 L736.74,97.99 L737.69,97.75 L738.65,97.52 L739.60,97.30 L740.55,97.10 L741.50,96.92 L742.46,96.75 L743.41,96.59 L744.37,96.44 L745.33,96.31 L746.30,96.18 L747.26,96.07 L748.22,95.97 L749.19,95.88 L750.15,95.80 L751.11,95.73 L752.07,95.69 L753.04,95.65 L754.00,95.62 L754.97,95.61 L755.94,95.60 L756.91,95.61 L757.88,95.63 L758.85,95.66 L759.82,95.69 L760.79,95.76 L761.76,95.83 L762.72,95.92 L763.69,96.01 L764.66,96.12 L765.63,96.24 L766.60,96.36 L767.57,96.50 L768.55,96.65 L769.53,96.81 L770.53,97.00 L771.52,97.21 L772.51,97.42 L773.51,97.66 L774.52,97.90 L775.55,98.15 L776.59,98.42 L777.67,98.69 L778.78,98.98 L779.92,99.27 L780.82,99.50 L781.73,99.73 L782.66,99.97 L783.61,100.22 L784.58,100.47 L785.55,100.73 L786.54,100.99 L787.53,101.25 L788.53,101.52 L789.54,101.80 L790.54,102.07 L791.54,102.35 L792.53,102.63 L793.52,102.91 L794.50,103.20 L795.48,103.48 L796.46,103.76 L797.46,104.05 L798.48,104.34 L799.50,104.64 L800.52,104.94 L801.54,105.25 L802.56,105.55 L803.58,105.86 L804.58,106.17 L805.57,106.48 L806.54,106.79 L807.49,107.09 L808.42,107.40 L809.31,107.70 L810.18,107.99 L811.01,108.28 L812.10,108.66 L813.15,109.02 L814.14,109.37 L815.09,109.72 L816.00,110.06 L816.89,110.41 L817.74,110.77 L818.58,111.14 L819.40,111.54 L820.26,111.98 L821.12,112.45 L821.96,112.94 L822.78,113.45 L823.58,113.96 L824.35,114.48 L825.09,115.00 L825.81,115.53 L826.77,116.27 L827.65,116.96 L828.40,117.62 L829.00,118.23 L829.48,118.87 L829.91,119.61 L830.30,120.41 L830.58,121.18 L830.73,121.84 L830.75,122.39 L830.68,122.86 L830.49,123.52 L830.18,124.25 L829.79,124.97 L829.36,125.63 L828.97,126.10 L828.46,126.54 L827.81,126.95 L826.98,127.35 L826.02,127.75 L825.07,128.11 L824.28,128.35 L823.50,128.52 L822.53,128.69 L821.33,128.91 L819.98,129.24 L819.14,129.49 L818.32,129.74 L817.48,130.01 L816.60,130.29 L815.69,130.60 L814.76,130.92 L813.80,131.25 L812.81,131.60 L811.80,131.95 L810.76,132.32 L809.70,132.69 L808.62,133.07 L807.52,133.45 L806.40,133.83 L805.27,134.21 L804.11,134.59 L803.33,134.85 L802.51,135.11 L801.68,135.37 L800.82,135.65 L799.93,135.93 L799.03,136.21 L798.11,136.50 L797.18,136.79 L796.22,137.09 L795.26,137.39 L794.27,137.70 L793.28,138.01 L792.27,138.32 L791.26,138.63 L790.24,138.95 L789.21,139.27 L788.17,139.59 L787.13,139.92 L786.09,140.24 L785.04,140.56 L783.99,140.89 L782.95,141.21 L781.90,141.54 L780.86,141.86 L779.83,142.19 L778.80,142.51 L777.77,142.83 L776.76,143.15 L775.75,143.46 L774.76,143.78 L773.77,144.09 L772.80,144.40 L771.85,144.70 L770.91,145.01 L769.98,145.30 L769.08,145.60 L768.03,145.94 L766.99,146.28 L765.97,146.62 L764.96,146.96 L763.95,147.30 L762.96,147.63 L761.98,147.97 L761.01,148.30 L760.04,148.64 L759.08,148.97 L758.13,149.30 L757.18,149.63 L756.24,149.95 L755.30,150.28 L754.37,150.60 L753.44,150.91 L752.51,151.23 L751.58,151.54 L750.65,151.85 L749.72,152.16 L748.79,152.47 L747.86,152.77 L746.92,153.06 L745.99,153.36 L745.04,153.65 L744.10,153.93 L743.11,154.23 L742.10,154.52 L741.07,154.81 L740.02,155.10 L738.95,155.39 L737.87,155.67 L736.78,155.95 L735.69,156.24 L734.59,156.52 L733.49,156.79 L732.39,157.07 L731.30,157.34 L730.22,157.61 L729.15,157.88 L728.10,158.15 L727.06,158.41 L726.05,158.67 L725.06,158.93 L724.09,159.18 L723.16,159.44 L722.25,159.68 L721.38,159.93 L720.54,160.18 L719.74,160.42 L718.98,160.67 L717.72,161.12 L716.57,161.55 L715.52,161.96 L714.52,162.38 L713.56,162.81 L712.60,163.28 L711.64,163.77 L710.72,164.28 L709.81,164.81 L708.90,165.36 L707.98,165.96 L707.06,166.60 L706.14,167.31 L705.23,168.10 L704.38,168.86 L703.58,169.67 L702.82,170.50 L702.09,171.35 L701.38,172.20 L700.68,173.07 L699.97,173.95 L699.24,174.82 L698.47,175.72 L697.89,176.37 L697.28,177.06 L696.65,177.77 L696.00,178.49 L695.35,179.23 L694.68,179.99 L694.00,180.75 L693.31,181.53 L692.61,182.31 L691.90,183.10 L691.19,183.90 L690.48,184.70 L689.76,185.50 L689.04,186.30 L688.32,187.10 L687.61,187.90 L686.90,188.69 L686.24,189.42 L685.58,190.15 L684.91,190.88 L684.24,191.63 L683.56,192.37 L682.88,193.12 L682.20,193.87 L681.51,194.62 L680.82,195.38 L680.13,196.13 L679.43,196.89 L678.74,197.65 L678.05,198.41 L677.35,199.17 L676.66,199.92 L675.96,200.68 L675.27,201.43 L674.58,202.18 L673.90,202.93 L673.21,203.67 L672.50,204.45 L671.77,205.24 L671.04,206.04 L670.30,206.84 L669.55,207.65 L668.80,208.46 L668.05,209.28 L667.31,210.08 L666.56,210.89 L665.83,211.69 L665.10,212.48 L664.38,213.25 L663.67,214.02 L662.98,214.76 L662.31,215.49 L661.65,216.19 L661.02,216.88 L660.41,217.53 L659.83,218.15 L659.05,218.98 L658.31,219.75 L657.59,220.49 L656.88,221.21 L656.18,221.93 L655.50,222.65 L654.83,223.39 L654.16,224.16 L653.52,224.96 L652.81,225.88 L652.15,226.80 L651.52,227.72 L650.92,228.65 L650.35,229.60 L649.79,230.57 L649.25,231.58 L648.75,232.58 L648.27,233.60 L647.83,234.64 L647.40,235.69 L646.99,236.73 L646.60,237.77 L646.23,238.79 L645.86,239.80 L645.50,240.78 L645.15,241.78 L644.82,242.78 L644.49,243.78 L644.17,244.78 L643.87,245.79 L643.57,246.79 L643.29,247.81 L642.99,248.97 L642.71,250.12 L642.45,251.28 L642.20,252.42 L641.96,253.55 L641.73,254.66 L641.50,255.76 L641.27,256.82 L641.05,257.87 L640.84,258.90 L640.63,259.93 L640.42,260.95 L640.21,261.96 L640.00,262.97 L639.80,263.97 L639.59,264.96 L639.38,265.96 L639.18,266.95 L638.97,267.95 L638.76,268.95 L638.55,269.96 L638.35,270.99 L638.14,272.02 L637.94,273.04 L637.74,274.06 L637.54,275.08 L637.33,276.09 L637.11,277.11 L636.91,278.05 L636.70,279.00 L636.48,279.97 L636.25,280.94 L636.02,281.91 L635.79,282.89 L635.56,283.86 L635.33,284.84 L635.10,285.81 L634.86,286.79 L634.62,287.77 L634.39,288.74 L634.15,289.72 L633.91,290.69 L633.67,291.66 L633.43,292.62 L633.17,293.69 L632.91,294.74 L632.66,295.78 L632.41,296.79 L632.16,297.78 L631.90,298.74 L631.62,299.67 L631.30,300.71 L630.98,301.72 L630.65,302.71 L630.31,303.66 L629.95,304.60 L629.55,305.52 L629.11,306.46 L628.64,307.40 L628.16,308.31 L627.65,309.19 L627.11,310.06 L626.54,310.90 L625.99,311.64 L625.36,312.39 L624.66,313.17 L623.91,313.98 L623.13,314.82 L622.33,315.69 L621.54,316.60 L620.82,317.49 L620.12,318.37 L619.44,319.23 L618.78,320.09 L618.13,320.92 L617.48,321.72 L616.83,322.51 L616.10,323.38 L615.37,324.24 L614.65,325.07 L613.92,325.89 L613.17,326.72 L612.37,327.56 L611.65,328.30 L610.90,329.05 L610.12,329.80 L609.34,330.56 L608.53,331.32 L607.72,332.06 L606.89,332.80 L606.04,333.53 L605.31,334.15 L604.58,334.77 L603.85,335.38 L603.12,335.98 L602.38,336.57 L601.63,337.14 L600.87,337.71 L600.08,338.27 L599.27,338.81 L598.43,339.35 L597.67,339.79 L596.85,340.25 L595.98,340.72 L595.07,341.19 L594.14,341.66 L593.18,342.12 L592.21,342.58 L591.23,343.03 L590.27,343.46 L589.31,343.89 L588.38,344.29 L587.48,344.68 L586.62,345.05 L585.82,345.39 L584.76,345.83 L583.79,346.21 L582.86,346.56 L581.93,346.89 L580.99,347.22 L580.01,347.56 L578.97,347.93 L578.02,348.27 L577.09,348.62 L576.18,348.96 L575.27,349.30 L574.37,349.63 L573.45,349.95 L572.51,350.25 L571.55,350.53 L570.53,350.80 L569.69,351.00 L568.80,351.19 L567.87,351.39 L566.90,351.57 L565.91,351.75 L564.89,351.93 L563.85,352.10 L562.80,352.26 L561.73,352.41 L560.66,352.56 L559.59,352.69 L558.53,352.82 L557.46,352.95 L556.41,353.06 L555.38,353.17 L554.39,353.26 L553.42,353.34 L552.47,353.41 L551.53,353.47 L550.59,353.53 L549.64,353.57 L548.69,353.61 L547.72,353.64 L546.72,353.67 L545.69,353.70 L544.63,353.72 L543.52,353.75 L542.37,353.78 L541.16,353.81 L539.90,353.85 L539.11,353.88 L538.30,353.90 L537.47,353.93 L536.61,353.96 L535.74,353.99 L534.84,354.02 L533.92,354.05 L532.98,354.08 L532.03,354.11 L531.06,354.14 L530.07,354.17 L529.07,354.20 L528.06,354.23 L527.04,354.26 L526.00,354.29 L524.96,354.32 L523.91,354.35 L522.85,354.38 L521.78,354.41 L520.71,354.44 L519.64,354.46 L518.56,354.49 L517.48,354.51 L516.40,354.54 L515.32,354.56 L514.25,354.58 L513.18,354.60 L512.11,354.61 L511.05,354.63 L509.99,354.64 L508.94,354.65 L507.90,354.66 L506.87,354.67 L505.85,354.67 L504.85,354.68 L503.85,354.68 L502.88,354.67 L501.91,354.67 L500.97,354.66 L500.04,354.65 L498.98,354.63 L497.90,354.61 L496.82,354.58 L495.74,354.55 L494.65,354.52 L493.56,354.48 L492.47,354.45 L491.38,354.41 L490.30,354.36 L489.21,354.32 L488.13,354.27 L487.06,354.22 L485.99,354.17 L484.93,354.11 L483.88,354.06 L482.85,354.00 L481.82,353.94 L480.81,353.89 L479.81,353.83 L478.84,353.77 L477.87,353.71 L476.93,353.64 L476.01,353.58 L475.11,353.52 L474.23,353.46 L473.38,353.40 L472.56,353.34 L471.76,353.28 L470.99,353.22 L470.25,353.16 L469.08,353.06 L468.04,352.97 L467.10,352.87 L466.22,352.77 L465.37,352.67 L464.51,352.57 L463.61,352.46 L462.64,352.34 L461.56,352.21 L460.36,352.07 L459.60,351.99 L458.81,351.90 L457.99,351.81 L457.14,351.72 L456.25,351.62 L455.35,351.52 L454.41,351.42 L453.46,351.32 L452.48,351.22 L451.48,351.11 L450.46,351.00 L449.43,350.89 L448.39,350.77 L447.33,350.66 L446.26,350.54 L445.18,350.42 L444.10,350.30 L443.01,350.18 L441.91,350.06 L440.82,349.93 L439.73,349.81 L438.64,349.68 L437.55,349.56 L436.47,349.43 L435.39,349.31 L434.33,349.18 L433.28,349.05 L432.24,348.93 L431.22,348.80 L430.21,348.68 L429.22,348.55 L428.24,348.43 L427.27,348.31 L426.30,348.18 L425.34,348.06 L424.39,347.94 L423.44,347.82 L422.49,347.69 L421.54,347.57 L420.60,347.44 L419.66,347.32 L418.71,347.19 L417.77,347.06 L416.82,346.94 L415.87,346.81 L414.91,346.67 L413.95,346.54 L412.98,346.41 L412.01,346.27 L411.02,346.13 L410.03,345.99 L409.02,345.84 L408.01,345.70 L406.98,345.55 L405.94,345.40 L404.88,345.24 L403.81,345.08 L402.72,344.92 L401.62,344.76 L400.50,344.59 L399.64,344.46 L398.76,344.33 L397.88,344.19 L396.98,344.05 L396.08,343.92 L395.16,343.78 L394.24,343.63 L393.30,343.49 L392.36,343.34 L391.40,343.19 L390.44,343.04 L389.48,342.89 L388.50,342.74 L387.52,342.58 L386.53,342.43 L385.53,342.27 L384.53,342.11 L383.52,341.95 L382.51,341.79 L381.49,341.62 L380.47,341.46 L379.44,341.29 L378.41,341.13 L377.37,340.96 L376.34,340.79 L375.30,340.62 L374.26,340.45 L373.21,340.28 L372.17,340.11 L371.12,339.94 L370.07,339.77 L369.02,339.59 L367.98,339.42 L366.93,339.25 L365.88,339.07 L364.84,338.90 L363.79,338.72 L362.75,338.55 L361.71,338.37 L360.67,338.20 L359.64,338.02 L358.60,337.85 L357.58,337.68 L356.55,337.50 L355.53,337.33 L354.52,337.15 L353.51,336.98 L352.50,336.81 L351.50,336.63 L350.51,336.46 L349.53,336.29 L348.55,336.12 L347.58,335.95 L346.55,335.77 L345.51,335.59 L344.46,335.40 L343.41,335.22 L342.36,335.03 L341.30,334.84 L340.24,334.66 L339.18,334.47 L338.11,334.28 L337.04,334.08 L335.97,333.89 L334.90,333.70 L333.83,333.51 L332.76,333.31 L331.69,333.12 L330.62,332.93 L329.55,332.73 L328.49,332.54 L327.43,332.34 L326.37,332.15 L325.31,331.95 L324.26,331.76 L323.21,331.56 L322.16,331.37 L321.13,331.18 L320.09,330.98 L319.07,330.79 L318.05,330.60 L317.04,330.41 L316.04,330.22 L315.04,330.03 L314.06,329.84 L313.08,329.65 L312.11,329.46 L311.16,329.28 L310.21,329.09 L309.28,328.91 L308.36,328.73 L307.45,328.55 L306.55,328.37 L305.67,328.19 L304.80,328.02 L303.95,327.85 L303.11,327.67 L302.29,327.50 L301.48,327.34 L300.69,327.17 L299.52,326.92 L298.39,326.68 L297.30,326.44 L296.25,326.20 L295.23,325.96 L294.23,325.72 L293.25,325.48 L292.30,325.25 L291.35,325.02 L290.41,324.79 L289.48,324.56 L288.55,324.33 L287.61,324.10 L286.67,323.88 L285.72,323.65 L284.75,323.43 L283.76,323.21 L282.75,322.99 L281.71,322.78 L280.64,322.56 L279.67,322.38 L278.68,322.20 L277.68,322.02 L276.66,321.85 L275.64,321.69 L274.61,321.52 L273.58,321.37 L272.54,321.21 L271.50,321.06 L270.46,320.91 L269.41,320.76 L268.37,320.61 L267.34,320.46 L266.31,320.31 L265.29,320.16 L264.28,320.01 L263.27,319.86 L262.29,319.70 L261.31,319.54 L260.36,319.38 L259.42,319.22 L258.51,319.05 L257.62,318.88 L256.75,318.71 L255.90,318.53 L254.79,318.28 L253.70,318.03 L252.64,317.77 L251.60,317.52 L250.58,317.27 L249.58,317.01 L248.60,316.75 L247.64,316.48 L246.69,316.21 L245.75,315.93 L244.82,315.64 L243.90,315.33 L242.98,315.02 L242.06,314.70 L241.15,314.36 L240.22,314.00 L239.29,313.63 L238.38,313.24 L237.47,312.85 L236.56,312.44 L235.66,312.02 L234.76,311.59 L233.87,311.15 L232.98,310.70 L232.10,310.24 L231.21,309.78 L230.33,309.31 L229.45,308.83 L228.57,308.35 L227.65,307.85 L226.75,307.33 L225.85,306.81 L224.96,306.27 L224.08,305.73 L223.19,305.18 L222.31,304.63 L221.43,304.06 L220.56,303.49 L219.68,302.91 L218.80,302.32 L217.92,301.73 L217.04,301.12 L216.21,300.55 L215.38,299.97 L214.56,299.38 L213.74,298.79 L212.92,298.20 L212.11,297.59 L211.29,296.99 L210.48,296.37 L209.66,295.74 L208.85,295.11 L208.03,294.47 L207.21,293.82 L206.38,293.15 L205.55,292.48 L204.78,291.86 L204.01,291.24 L203.23,290.62 L202.46,290.00 L201.69,289.38 L200.91,288.75 L200.15,288.12 L199.38,287.49 L198.63,286.85 L197.88,286.20 L197.13,285.54 L196.40,284.88 L195.67,284.20 L194.95,283.51 L194.25,282.81 L193.56,282.09 L192.87,281.35 L192.26,280.66 L191.64,279.94 L191.02,279.20 L190.39,278.45 L189.77,277.67 L189.15,276.88 L188.54,276.08 L187.92,275.26 L187.31,274.43 L186.71,273.59 L186.11,272.75 L185.52,271.90 L184.94,271.05 L184.36,270.19 L183.80,269.34 L183.24,268.48 L182.70,267.63 L182.17,266.78 L181.65,265.94 L181.15,265.10 L180.66,264.28 L180.13,263.37 L179.61,262.46 L179.11,261.55 L178.63,260.65 L178.15,259.75 L177.69,258.85 L177.24,257.95 L176.81,257.05 L176.38,256.14 L175.96,255.24 L175.56,254.32 L175.16,253.41 L174.78,252.48 L174.40,251.55 L174.03,250.61 L173.66,249.66 L173.31,248.70 L172.98,247.78 L172.67,246.86 L172.37,245.92 L172.08,244.98 L171.81,244.03 L171.54,243.07 L171.28,242.10 L171.03,241.12 L170.78,240.12 L170.54,239.12 L170.29,238.11 L170.05,237.08 L169.81,236.05 L169.56,235.00 L169.30,233.94 L169.04,232.87 L168.78,231.79 L168.50,230.71 L168.26,229.76 L168.01,228.79 L167.76,227.80 L167.51,226.80 L167.26,225.78 L167.00,224.75 L166.74,223.71 L166.49,222.66 L166.23,221.61 L165.97,220.55 L165.71,219.50 L165.46,218.45 L165.20,217.40 L164.95,216.36 L164.70,215.33 L164.45,214.31 L164.20,213.30 L163.96,212.32 L163.72,211.35 L163.48,210.40 L163.25,209.48 L163.02,208.58 L162.80,207.71 L162.50,206.52 L162.21,205.36 L161.92,204.22 L161.64,203.09 L161.36,201.99 L161.09,200.91 L160.82,199.86 L160.55,198.84 L160.28,197.84 L160.00,196.88 L159.73,195.94 L159.45,195.04 L159.08,193.89 L158.73,192.84 L158.37,191.83 L158.00,190.85 L157.60,189.88 L157.18,188.91 L156.75,187.92 L156.30,186.89 L155.80,185.83 L155.24,184.74 L154.60,183.66 L153.86,182.60 L152.97,181.56 L152.04,180.65 L151.10,179.84 L150.19,179.12 L149.27,178.44 L148.20,177.72 L147.15,177.11 L146.16,176.57 L145.11,175.98 L144.35,175.54 L143.49,175.05 L142.59,174.54 L141.67,174.02 L140.74,173.49 L139.84,172.96 L138.99,172.45 L138.22,171.97 L137.54,171.52 L136.72,170.94 L135.98,170.38 L135.29,169.82 L134.60,169.23 L133.86,168.57 L133.01,167.82 L132.20,167.09 L131.47,166.39 L130.84,165.70 L130.28,164.96 L129.86,164.29 L129.42,163.44 L128.98,162.48 L128.55,161.46 L128.14,160.42 L127.77,159.40 L127.43,158.47 L127.07,157.37 L126.79,156.39 L126.55,155.43 L126.34,154.40 L126.20,153.56 L126.08,152.71 L125.98,151.81 L125.89,150.82Z M119.51,151.41 L119.61,152.47 L119.73,153.50 L119.87,154.54 L120.06,155.60 L120.31,156.82 L120.60,158.03 L120.95,159.26 L121.37,160.53 L121.72,161.56 L122.12,162.67 L122.56,163.84 L123.05,165.05 L123.60,166.27 L124.21,167.47 L124.92,168.64 L125.84,169.85 L126.81,170.92 L127.77,171.85 L128.68,172.67 L129.54,173.43 L130.33,174.13 L131.13,174.82 L131.98,175.50 L132.87,176.18 L133.86,176.88 L134.70,177.44 L135.60,178.00 L136.54,178.56 L137.50,179.12 L138.46,179.67 L139.39,180.20 L140.29,180.70 L141.12,181.17 L141.89,181.62 L142.99,182.25 L143.96,182.77 L144.75,183.23 L145.53,183.76 L146.25,184.29 L146.97,184.86 L147.64,185.43 L148.23,186.01 L148.74,186.60 L149.16,187.19 L149.59,187.90 L150.03,188.71 L150.46,189.60 L150.89,190.54 L151.32,191.49 L151.70,192.37 L152.04,193.20 L152.36,194.04 L152.68,194.93 L153.00,195.90 L153.35,196.96 L153.60,197.78 L153.85,198.64 L154.11,199.55 L154.36,200.49 L154.62,201.48 L154.89,202.50 L155.16,203.56 L155.43,204.65 L155.71,205.77 L156.00,206.92 L156.30,208.09 L156.60,209.29 L156.82,210.15 L157.04,211.04 L157.27,211.95 L157.50,212.89 L157.74,213.85 L157.98,214.83 L158.23,215.83 L158.48,216.85 L158.73,217.88 L158.98,218.92 L159.24,219.96 L159.50,221.02 L159.75,222.07 L160.01,223.13 L160.27,224.18 L160.53,225.24 L160.79,226.28 L161.04,227.32 L161.30,228.35 L161.55,229.36 L161.81,230.36 L162.06,231.34 L162.30,232.29 L162.57,233.35 L162.83,234.40 L163.08,235.44 L163.33,236.49 L163.58,237.52 L163.82,238.56 L164.07,239.59 L164.32,240.63 L164.57,241.66 L164.83,242.69 L165.09,243.72 L165.36,244.75 L165.65,245.77 L165.95,246.80 L166.26,247.83 L166.58,248.85 L166.93,249.88 L167.29,250.90 L167.67,251.92 L168.06,252.93 L168.46,253.93 L168.86,254.92 L169.27,255.91 L169.70,256.89 L170.13,257.87 L170.58,258.84 L171.03,259.81 L171.50,260.77 L171.98,261.74 L172.47,262.70 L172.98,263.66 L173.50,264.62 L174.03,265.59 L174.58,266.55 L175.14,267.52 L175.66,268.39 L176.19,269.27 L176.73,270.15 L177.29,271.04 L177.86,271.94 L178.44,272.84 L179.03,273.74 L179.64,274.64 L180.25,275.53 L180.87,276.43 L181.50,277.32 L182.14,278.20 L182.79,279.08 L183.44,279.95 L184.09,280.80 L184.76,281.65 L185.42,282.48 L186.09,283.30 L186.77,284.10 L187.45,284.88 L188.13,285.65 L188.89,286.48 L189.66,287.29 L190.45,288.08 L191.24,288.85 L192.03,289.60 L192.83,290.33 L193.63,291.04 L194.43,291.74 L195.23,292.42 L196.02,293.09 L196.82,293.75 L197.61,294.40 L198.39,295.04 L199.17,295.67 L199.94,296.29 L200.70,296.91 L201.45,297.52 L202.30,298.21 L203.15,298.90 L204.00,299.57 L204.85,300.24 L205.69,300.89 L206.54,301.54 L207.39,302.18 L208.23,302.81 L209.08,303.44 L209.93,304.06 L210.78,304.67 L211.64,305.28 L212.49,305.88 L213.36,306.48 L214.26,307.10 L215.17,307.71 L216.08,308.32 L216.99,308.92 L217.90,309.52 L218.82,310.11 L219.74,310.69 L220.67,311.27 L221.61,311.84 L222.55,312.40 L223.50,312.96 L224.46,313.51 L225.43,314.05 L226.34,314.54 L227.25,315.04 L228.17,315.53 L229.10,316.01 L230.03,316.49 L230.97,316.97 L231.92,317.43 L232.88,317.89 L233.85,318.35 L234.83,318.79 L235.82,319.22 L236.82,319.64 L237.83,320.05 L238.85,320.44 L239.85,320.81 L240.85,321.16 L241.85,321.50 L242.85,321.83 L243.85,322.14 L244.86,322.44 L245.87,322.74 L246.90,323.02 L247.93,323.30 L248.98,323.57 L250.05,323.83 L251.13,324.10 L252.23,324.36 L253.35,324.61 L254.50,324.87 L255.41,325.07 L256.34,325.27 L257.30,325.45 L258.26,325.63 L259.25,325.81 L260.24,325.98 L261.25,326.15 L262.26,326.31 L263.29,326.47 L264.32,326.63 L265.35,326.78 L266.39,326.94 L267.43,327.09 L268.47,327.24 L269.51,327.40 L270.54,327.55 L271.57,327.71 L272.59,327.86 L273.60,328.02 L274.59,328.18 L275.58,328.35 L276.55,328.51 L277.51,328.68 L278.44,328.86 L279.36,329.04 L280.37,329.25 L281.36,329.46 L282.33,329.67 L283.27,329.89 L284.20,330.10 L285.13,330.33 L286.04,330.55 L286.96,330.78 L287.88,331.01 L288.80,331.24 L289.74,331.48 L290.69,331.72 L291.66,331.96 L292.66,332.20 L293.68,332.45 L294.73,332.70 L295.82,332.95 L296.94,333.21 L298.10,333.47 L299.31,333.73 L300.11,333.90 L300.93,334.07 L301.76,334.24 L302.61,334.41 L303.48,334.59 L304.35,334.76 L305.24,334.94 L306.15,335.12 L307.06,335.30 L307.99,335.48 L308.93,335.67 L309.88,335.85 L310.84,336.04 L311.81,336.23 L312.79,336.42 L313.78,336.61 L314.78,336.80 L315.79,336.99 L316.81,337.18 L317.83,337.37 L318.86,337.57 L319.90,337.76 L320.94,337.96 L321.98,338.15 L323.04,338.35 L324.09,338.54 L325.15,338.74 L326.22,338.93 L327.28,339.13 L328.35,339.32 L329.42,339.52 L330.50,339.71 L331.57,339.91 L332.64,340.10 L333.72,340.29 L334.79,340.49 L335.86,340.68 L336.93,340.87 L338.00,341.06 L339.07,341.25 L340.13,341.44 L341.19,341.63 L342.25,341.82 L343.30,342.00 L344.35,342.19 L345.39,342.37 L346.42,342.55 L347.40,342.72 L348.38,342.89 L349.37,343.06 L350.36,343.24 L351.36,343.41 L352.37,343.58 L353.38,343.76 L354.40,343.93 L355.43,344.11 L356.45,344.28 L357.48,344.46 L358.52,344.63 L359.56,344.81 L360.60,344.98 L361.64,345.16 L362.68,345.33 L363.73,345.51 L364.78,345.68 L365.83,345.86 L366.88,346.03 L367.93,346.20 L368.98,346.38 L370.03,346.55 L371.08,346.72 L372.13,346.90 L373.18,347.07 L374.22,347.24 L375.26,347.41 L376.30,347.57 L377.34,347.74 L378.37,347.91 L379.40,348.08 L380.43,348.24 L381.45,348.40 L382.46,348.57 L383.47,348.73 L384.48,348.89 L385.48,349.04 L386.47,349.20 L387.46,349.36 L388.44,349.51 L389.41,349.66 L390.37,349.81 L391.33,349.96 L392.28,350.11 L393.21,350.25 L394.14,350.40 L395.06,350.54 L395.97,350.68 L396.87,350.81 L397.76,350.95 L398.64,351.08 L399.50,351.21 L400.63,351.38 L401.74,351.55 L402.83,351.71 L403.91,351.87 L404.97,352.02 L406.01,352.18 L407.05,352.33 L408.07,352.47 L409.08,352.62 L410.08,352.76 L411.07,352.90 L412.05,353.04 L413.03,353.18 L413.99,353.31 L414.96,353.44 L415.92,353.57 L416.87,353.70 L417.82,353.83 L418.77,353.96 L419.72,354.09 L420.67,354.21 L421.62,354.34 L422.57,354.46 L423.53,354.58 L424.49,354.71 L425.46,354.83 L426.43,354.95 L427.41,355.08 L428.39,355.20 L429.39,355.32 L430.40,355.45 L431.44,355.57 L432.49,355.70 L433.55,355.82 L434.62,355.94 L435.70,356.07 L436.79,356.19 L437.88,356.31 L438.98,356.44 L440.08,356.56 L441.18,356.68 L442.28,356.80 L443.37,356.92 L444.46,357.03 L445.54,357.15 L446.62,357.26 L447.68,357.38 L448.73,357.49 L449.76,357.60 L450.78,357.70 L451.78,357.81 L452.76,357.91 L453.71,358.01 L454.65,358.11 L455.56,358.20 L456.44,358.29 L457.29,358.38 L458.11,358.47 L458.89,358.55 L459.64,358.63 L460.83,358.76 L461.88,358.87 L462.84,358.98 L463.75,359.08 L464.63,359.18 L465.52,359.27 L466.45,359.37 L467.44,359.46 L468.54,359.55 L469.75,359.64 L470.51,359.69 L471.29,359.75 L472.10,359.80 L472.94,359.86 L473.80,359.91 L474.69,359.97 L475.60,360.02 L476.53,360.08 L477.49,360.13 L478.46,360.19 L479.45,360.24 L480.45,360.30 L481.48,360.35 L482.51,360.40 L483.56,360.45 L484.62,360.50 L485.69,360.55 L486.77,360.59 L487.86,360.64 L488.96,360.68 L490.05,360.72 L491.16,360.75 L492.26,360.79 L493.37,360.82 L494.47,360.85 L495.58,360.88 L496.68,360.90 L497.78,360.92 L498.87,360.94 L499.96,360.95 L500.91,360.96 L501.87,360.97 L502.85,360.97 L503.85,360.98 L504.85,360.98 L505.88,360.97 L506.91,360.97 L507.95,360.96 L509.00,360.95 L510.06,360.94 L511.13,360.93 L512.20,360.91 L513.28,360.90 L514.36,360.88 L515.45,360.86 L516.53,360.83 L517.62,360.81 L518.70,360.79 L519.79,360.76 L520.87,360.74 L521.94,360.71 L523.01,360.68 L524.08,360.65 L525.14,360.62 L526.18,360.59 L527.22,360.56 L528.25,360.53 L529.27,360.50 L530.27,360.47 L531.26,360.44 L532.23,360.41 L533.19,360.37 L534.12,360.34 L535.04,360.31 L535.94,360.28 L536.82,360.26 L537.68,360.23 L538.51,360.20 L539.32,360.17 L540.10,360.15 L541.35,360.11 L542.54,360.08 L543.68,360.05 L544.79,360.02 L545.85,359.99 L546.89,359.97 L547.91,359.94 L548.92,359.90 L549.91,359.86 L550.90,359.82 L551.90,359.76 L552.90,359.70 L553.92,359.62 L554.96,359.54 L556.02,359.43 L557.09,359.32 L558.18,359.19 L559.29,359.06 L560.40,358.92 L561.51,358.76 L562.62,358.61 L563.74,358.44 L564.84,358.26 L565.93,358.08 L567.01,357.89 L568.07,357.69 L569.11,357.48 L570.12,357.26 L571.10,357.04 L572.07,356.80 L573.24,356.48 L574.36,356.14 L575.43,355.79 L576.45,355.42 L577.43,355.05 L578.37,354.69 L579.28,354.34 L580.16,354.00 L581.03,353.67 L582.04,353.32 L583.01,352.98 L583.97,352.64 L584.95,352.29 L585.97,351.91 L587.05,351.48 L588.18,351.01 L589.02,350.65 L589.90,350.27 L590.82,349.86 L591.78,349.43 L592.76,348.99 L593.77,348.53 L594.78,348.05 L595.80,347.56 L596.82,347.06 L597.82,346.55 L598.80,346.04 L599.76,345.52 L600.69,344.99 L601.57,344.45 L602.55,343.84 L603.49,343.21 L604.38,342.57 L605.25,341.93 L606.08,341.29 L606.89,340.64 L607.68,340.00 L608.45,339.36 L609.20,338.72 L609.96,338.07 L610.85,337.29 L611.74,336.48 L612.61,335.67 L613.46,334.85 L614.29,334.04 L615.09,333.23 L615.87,332.43 L616.63,331.64 L617.49,330.73 L618.31,329.84 L619.09,328.96 L619.85,328.08 L620.60,327.20 L621.37,326.29 L622.07,325.44 L622.75,324.58 L623.43,323.71 L624.09,322.86 L624.75,322.02 L625.41,321.19 L626.06,320.40 L626.74,319.62 L627.46,318.82 L628.23,318.00 L629.02,317.14 L629.83,316.24 L630.61,315.30 L631.36,314.30 L632.07,313.23 L632.71,312.16 L633.30,311.09 L633.85,310.02 L634.36,308.96 L634.85,307.88 L635.31,306.79 L635.74,305.70 L636.13,304.61 L636.50,303.52 L636.84,302.43 L637.18,301.33 L637.47,300.28 L637.75,299.22 L638.01,298.16 L638.25,297.10 L638.49,296.05 L638.73,295.01 L638.97,293.98 L639.20,293.02 L639.44,292.05 L639.68,291.08 L639.92,290.10 L640.16,289.11 L640.40,288.13 L640.64,287.14 L640.87,286.16 L641.10,285.18 L641.34,284.20 L641.57,283.22 L641.80,282.23 L642.03,281.24 L642.26,280.26 L642.48,279.27 L642.69,278.29 L642.90,277.22 L643.11,276.17 L643.30,275.12 L643.49,274.09 L643.67,273.06 L643.86,272.05 L644.05,271.04 L644.24,270.04 L644.43,269.04 L644.62,268.05 L644.82,267.05 L645.01,266.05 L645.20,265.04 L645.40,264.03 L645.58,263.00 L645.77,261.97 L645.95,260.94 L646.13,259.92 L646.31,258.89 L646.50,257.87 L646.70,256.84 L646.92,255.74 L647.15,254.63 L647.38,253.52 L647.62,252.43 L647.87,251.34 L648.13,250.26 L648.41,249.19 L648.67,248.25 L648.95,247.30 L649.24,246.35 L649.53,245.40 L649.85,244.45 L650.17,243.51 L650.50,242.56 L650.84,241.60 L651.20,240.61 L651.57,239.62 L651.94,238.62 L652.32,237.65 L652.71,236.69 L653.11,235.76 L653.52,234.87 L653.95,234.02 L654.43,233.14 L654.91,232.29 L655.42,231.46 L655.94,230.65 L656.49,229.85 L657.07,229.05 L657.68,228.24 L658.23,227.58 L658.79,226.94 L659.39,226.30 L660.02,225.65 L660.69,224.98 L661.40,224.27 L662.15,223.52 L662.94,222.71 L663.77,221.85 L664.36,221.21 L664.97,220.55 L665.61,219.87 L666.27,219.16 L666.94,218.43 L667.63,217.68 L668.34,216.92 L669.06,216.14 L669.79,215.35 L670.53,214.55 L671.27,213.75 L672.02,212.94 L672.77,212.12 L673.52,211.31 L674.27,210.50 L675.01,209.69 L675.75,208.89 L676.47,208.10 L677.19,207.33 L677.87,206.58 L678.56,205.83 L679.25,205.08 L679.94,204.33 L680.64,203.57 L681.33,202.81 L682.03,202.06 L682.72,201.30 L683.42,200.54 L684.11,199.78 L684.81,199.02 L685.50,198.26 L686.19,197.51 L686.87,196.75 L687.56,196.00 L688.23,195.26 L688.91,194.51 L689.58,193.77 L690.24,193.04 L690.90,192.31 L691.62,191.51 L692.34,190.71 L693.06,189.91 L693.78,189.10 L694.50,188.30 L695.22,187.50 L695.93,186.70 L696.64,185.90 L697.34,185.12 L698.03,184.34 L698.71,183.57 L699.38,182.82 L700.04,182.08 L700.68,181.35 L701.31,180.65 L701.92,179.96 L702.53,179.28 L703.36,178.34 L704.15,177.41 L704.88,176.52 L705.58,175.67 L706.25,174.88 L706.90,174.14 L707.52,173.47 L708.15,172.86 L708.77,172.30 L709.51,171.77 L710.26,171.29 L711.02,170.85 L711.80,170.43 L712.62,170.03 L713.48,169.63 L714.36,169.23 L715.23,168.83 L716.06,168.47 L716.89,168.14 L717.76,167.82 L718.72,167.48 L719.79,167.13 L721.02,166.73 L721.68,166.51 L722.40,166.28 L723.17,166.05 L723.99,165.81 L724.85,165.56 L725.75,165.31 L726.69,165.06 L727.66,164.80 L728.65,164.54 L729.67,164.27 L730.72,164.00 L731.78,163.72 L732.86,163.44 L733.95,163.16 L735.05,162.88 L736.15,162.59 L737.26,162.30 L738.37,162.01 L739.48,161.71 L740.58,161.41 L741.67,161.11 L742.76,160.80 L743.82,160.49 L744.88,160.18 L745.90,159.87 L746.88,159.56 L747.85,159.25 L748.82,158.93 L749.77,158.62 L750.72,158.30 L751.67,157.97 L752.62,157.65 L753.56,157.32 L754.50,156.99 L755.44,156.66 L756.37,156.33 L757.31,155.99 L758.25,155.66 L759.19,155.32 L760.14,154.98 L761.08,154.64 L762.03,154.30 L762.99,153.96 L763.95,153.62 L764.92,153.27 L765.90,152.93 L766.88,152.58 L767.88,152.24 L768.88,151.89 L769.89,151.55 L770.92,151.20 L771.81,150.91 L772.73,150.61 L773.66,150.30 L774.60,149.99 L775.57,149.68 L776.54,149.37 L777.53,149.05 L778.53,148.73 L779.54,148.41 L780.56,148.08 L781.58,147.75 L782.61,147.43 L783.65,147.10 L784.69,146.77 L785.73,146.44 L786.78,146.11 L787.82,145.78 L788.86,145.45 L789.90,145.12 L790.94,144.80 L791.96,144.47 L792.99,144.15 L794.00,143.83 L795.01,143.51 L796.00,143.19 L796.98,142.88 L797.95,142.57 L798.91,142.27 L799.85,141.97 L800.77,141.67 L801.68,141.38 L802.56,141.10 L803.43,140.82 L804.27,140.54 L805.09,140.27 L805.89,140.01 L807.07,139.62 L808.23,139.23 L809.38,138.84 L810.49,138.45 L811.59,138.07 L812.65,137.70 L813.69,137.33 L814.70,136.98 L815.67,136.63 L816.62,136.31 L817.53,136.00 L818.40,135.70 L819.23,135.43 L820.02,135.18 L820.77,134.95 L821.42,134.76 L822.54,134.48 L823.54,134.30 L824.58,134.12 L825.74,133.87 L826.93,133.49 L828.11,133.05 L829.32,132.55 L830.58,131.93 L831.86,131.12 L833.03,130.10 L833.93,129.03 L834.68,127.91 L835.33,126.70 L835.86,125.41 L836.25,124.06 L836.45,122.61 L836.35,121.03 L836.00,119.53 L835.47,118.15 L834.84,116.91 L834.12,115.73 L833.24,114.58 L832.25,113.55 L831.23,112.66 L830.21,111.85 L829.19,111.07 L828.41,110.47 L827.57,109.87 L826.71,109.27 L825.81,108.68 L824.89,108.10 L823.94,107.53 L822.98,106.99 L822.00,106.46 L821.04,105.98 L820.09,105.52 L819.12,105.09 L818.15,104.68 L817.17,104.29 L816.17,103.90 L815.14,103.51 L814.08,103.12 L812.99,102.72 L812.12,102.41 L811.22,102.10 L810.29,101.78 L809.33,101.46 L808.36,101.14 L807.36,100.82 L806.35,100.50 L805.33,100.18 L804.30,99.86 L803.27,99.54 L802.23,99.22 L801.19,98.91 L800.16,98.61 L799.14,98.30 L798.12,98.01 L797.12,97.72 L796.13,97.44 L795.12,97.17 L794.11,96.90 L793.09,96.63 L792.06,96.37 L791.04,96.10 L790.02,95.85 L789.00,95.59 L787.99,95.34 L786.99,95.09 L785.99,94.85 L785.02,94.62 L784.05,94.39 L783.11,94.16 L782.18,93.94 L781.28,93.73 L780.14,93.46 L779.02,93.20 L777.93,92.94 L776.86,92.69 L775.80,92.45 L774.74,92.21 L773.69,91.99 L772.63,91.78 L771.55,91.58 L770.47,91.39 L769.43,91.21 L768.40,91.04 L767.37,90.89 L766.35,90.74 L765.32,90.61 L764.30,90.48 L763.27,90.37 L762.24,90.27 L761.21,90.18 L760.18,90.11 L759.16,90.02 L758.13,89.95 L757.10,89.89 L756.07,89.84 L755.03,89.81 L754.00,89.78 L752.96,89.77 L751.93,89.77 L750.89,89.78 L749.85,89.80 L748.81,89.84 L747.77,89.88 L746.73,89.94 L745.69,90.01 L744.65,90.10 L743.61,90.19 L742.57,90.30 L741.53,90.42 L740.49,90.55 L739.45,90.70 L738.39,90.85 L737.34,91.03 L736.29,91.22 L735.24,91.42 L734.20,91.63 L733.17,91.85 L732.15,92.07 L731.13,92.30 L730.11,92.53 L729.10,92.77 L728.09,93.01 L727.10,93.25 L726.14,93.50 L725.19,93.75 L724.23,94.00 L723.26,94.27 L722.26,94.54 L721.21,94.83 L720.11,95.13 L718.93,95.45 L718.17,95.67 L717.37,95.90 L716.55,96.14 L715.69,96.39 L714.82,96.64 L713.92,96.91 L712.99,97.17 L712.05,97.45 L711.09,97.73 L710.11,98.01 L709.12,98.30 L708.12,98.60 L707.11,98.89 L706.09,99.19 L705.06,99.49 L704.03,99.80 L702.99,100.10 L701.96,100.40 L700.93,100.70 L699.90,101.00 L698.87,101.30 L697.85,101.60 L696.85,101.90 L695.85,102.19 L694.86,102.48 L693.89,102.76 L692.91,103.05 L691.90,103.35 L690.86,103.66 L689.79,103.98 L688.71,104.31 L687.61,104.64 L686.51,104.97 L685.39,105.30 L684.27,105.64 L683.16,105.97 L682.05,106.31 L680.95,106.64 L679.87,106.96 L678.80,107.28 L677.76,107.59 L676.74,107.90 L675.75,108.19 L674.80,108.47 L673.89,108.74 L673.02,108.99 L672.20,109.23 L671.44,109.45 L670.73,109.65 L670.08,109.84 L669.51,109.99 L668.96,110.14 L667.99,110.39 L667.38,110.54 L667.08,110.59 L666.69,110.61 L665.96,110.60 L665.09,110.55 L664.15,110.44 L663.23,110.29 L662.34,110.08 L661.43,109.86 L660.55,109.60 L659.78,109.32 L659.18,109.04 L658.72,108.75 L658.28,108.40 L657.81,107.95 L657.37,107.43 L656.98,106.87 L656.66,106.30 L656.46,105.82 L656.28,105.23 L656.12,104.47 L655.97,103.54 L655.82,102.47 L655.66,101.33 L655.55,100.49 L655.45,99.63 L655.37,98.72 L655.30,97.76 L655.24,96.77 L655.18,95.74 L655.12,94.69 L655.07,93.62 L655.01,92.54 L654.94,91.46 L654.87,90.43 L654.79,89.40 L654.72,88.35 L654.65,87.28 L654.59,86.21 L654.52,85.13 L654.45,84.04 L654.38,82.96 L654.30,81.88 L654.22,80.81 L654.14,79.76 L654.06,78.70 L653.98,77.62 L653.92,76.51 L653.84,75.38 L653.77,74.24 L653.68,73.10 L653.56,71.96 L653.42,70.84 L653.24,69.74 L653.01,68.69 L652.70,67.46 L652.34,66.25 L651.88,65.03 L651.27,63.81 L650.48,62.60 L649.51,61.49 L648.46,60.55 L647.39,59.75 L646.33,59.07 L645.25,58.45 L644.03,57.84 L642.76,57.30 L641.50,56.85 L640.25,56.46 L638.99,56.09 L637.99,55.82 L636.98,55.59 L635.99,55.38 L634.99,55.19 L633.99,55.01 L632.96,54.82 L631.88,54.61 L630.74,54.38 L629.96,54.22 L629.12,54.04 L628.24,53.85 L627.31,53.64 L626.35,53.43 L625.36,53.21 L624.34,52.98 L623.29,52.75 L622.23,52.51 L621.16,52.27 L620.08,52.03 L618.99,51.79 L617.90,51.55 L616.82,51.32 L615.74,51.09 L614.68,50.86 L613.63,50.65 L612.61,50.44 L611.61,50.24 L610.63,50.06 L609.55,49.86 L608.49,49.67 L607.44,49.49 L606.41,49.31 L605.39,49.15 L604.38,48.99 L603.38,48.83 L602.38,48.68 L601.40,48.53 L600.42,48.38 L599.44,48.24 L598.46,48.09 L597.48,47.94 L596.50,47.79 L595.51,47.64 L594.46,47.47 L593.40,47.30 L592.36,47.13 L591.31,46.96 L590.27,46.79 L589.22,46.63 L588.18,46.46 L587.13,46.30 L586.08,46.13 L585.02,45.96 L583.95,45.79 L582.87,45.63 L581.79,45.46 L580.69,45.29 L579.70,45.13 L578.72,44.98 L577.72,44.82 L576.72,44.66 L575.71,44.50 L574.70,44.33 L573.68,44.17 L572.65,44.00 L571.62,43.84 L570.57,43.68 L569.52,43.52 L568.45,43.36 L567.38,43.21 L566.30,43.05 L565.21,42.91 L564.10,42.76 L562.99,42.62 L562.01,42.51 L561.03,42.39 L560.04,42.27 L559.04,42.16 L558.04,42.05 L557.03,41.94 L556.01,41.83 L554.98,41.72 L553.95,41.62 L552.91,41.51 L551.87,41.41 L550.82,41.31 L549.77,41.22 L548.72,41.13 L547.66,41.04 L546.60,40.95 L545.53,40.87 L544.46,40.79 L543.40,40.71 L542.33,40.64 L541.26,40.57 L540.19,40.51 L539.19,40.45 L538.18,40.40 L537.18,40.34 L536.16,40.30 L535.15,40.25 L534.13,40.21 L533.11,40.17 L532.08,40.13 L531.05,40.10 L530.02,40.07 L528.99,40.04 L527.96,40.01 L526.93,39.99 L525.89,39.97 L524.86,39.95 L523.82,39.93 L522.79,39.92 L521.76,39.91 L520.72,39.90 L519.69,39.90 L518.67,39.89 L517.64,39.89 L516.62,39.89 L515.60,39.89 L514.58,39.90 L513.54,39.91 L512.50,39.91 L511.46,39.93 L510.42,39.94 L509.39,39.96 L508.35,39.97 L507.32,40.00 L506.29,40.02 L505.25,40.05 L504.22,40.08 L503.19,40.11 L502.16,40.14 L501.13,40.18 L500.10,40.22 L499.07,40.26 L498.04,40.31 L497.01,40.35 L495.98,40.40 L494.95,40.46 L493.91,40.51 L492.88,40.57 L491.85,40.63 L490.82,40.69 L489.78,40.76 L488.74,40.83 L487.68,40.90 L486.63,40.98 L485.56,41.07 L484.50,41.15 L483.43,41.24 L482.36,41.33 L481.29,41.43 L480.22,41.53 L479.15,41.63 L478.08,41.73 L477.01,41.83 L475.95,41.94 L474.90,42.05 L473.85,42.16 L472.81,42.27 L471.77,42.38 L470.74,42.49 L469.73,42.60 L468.72,42.72 L467.72,42.83 L466.74,42.95 L465.77,43.06 L464.81,43.17 L463.69,43.30 L462.59,43.44 L461.51,43.57 L460.43,43.70 L459.38,43.83 L458.33,43.97 L457.29,44.10 L456.26,44.24 L455.24,44.38 L454.21,44.53 L453.20,44.67 L452.18,44.83 L451.16,44.98 L450.14,45.14 L449.11,45.30 L448.08,45.47 L447.03,45.65 L445.98,45.83 L444.93,46.02 L443.88,46.22 L442.84,46.42 L441.80,46.62 L440.76,46.83 L439.73,47.04 L438.69,47.25 L437.66,47.47 L436.63,47.68 L435.59,47.90 L434.55,48.12 L433.52,48.34 L432.47,48.56 L431.43,48.78 L430.38,49.00 L429.32,49.22 L428.37,49.42 L427.45,49.61 L426.57,49.79 L425.70,49.98 L424.85,50.15 L424.00,50.33 L423.16,50.51 L422.32,50.69 L421.46,50.87 L420.58,51.06 L419.68,51.25 L418.75,51.44 L417.77,51.65 L416.75,51.86 L415.68,52.09 L414.56,52.33 L413.36,52.58 L412.09,52.84 L410.75,53.12 L409.32,53.42 L408.80,53.53 L408.27,53.64 L407.72,53.75 L407.16,53.87 L406.59,53.99 L406.00,54.11 L405.41,54.23 L404.80,54.36 L404.17,54.49 L403.54,54.62 L402.89,54.76 L402.23,54.89 L401.56,55.03 L400.88,55.17 L400.18,55.32 L399.48,55.46 L398.76,55.61 L398.03,55.76 L397.29,55.92 L396.54,56.07 L395.78,56.23 L395.01,56.39 L394.23,56.55 L393.44,56.71 L392.64,56.88 L391.82,57.05 L391.00,57.22 L390.17,57.39 L389.33,57.56 L388.48,57.74 L387.62,57.92 L386.75,58.10 L385.87,58.28 L384.99,58.46 L384.09,58.65 L383.19,58.83 L382.28,59.02 L381.36,59.21 L380.43,59.40 L379.49,59.60 L378.55,59.79 L377.59,59.99 L376.63,60.19 L375.67,60.39 L374.69,60.59 L373.71,60.79 L372.72,61.00 L371.73,61.20 L370.73,61.41 L369.72,61.62 L368.70,61.83 L367.68,62.04 L366.66,62.25 L365.62,62.46 L364.59,62.68 L363.54,62.89 L362.49,63.11 L361.44,63.33 L360.38,63.54 L359.31,63.76 L358.24,63.99 L357.16,64.21 L356.08,64.43 L355.00,64.65 L353.91,64.88 L352.82,65.10 L351.72,65.33 L350.62,65.56 L349.52,65.78 L348.41,66.01 L347.30,66.24 L346.18,66.47 L345.06,66.70 L343.94,66.93 L342.82,67.17 L341.69,67.40 L340.56,67.63 L339.43,67.87 L338.29,68.10 L337.16,68.33 L336.02,68.57 L334.88,68.80 L333.73,69.04 L332.59,69.28 L331.44,69.51 L330.30,69.75 L329.15,69.98 L328.00,70.22 L326.85,70.46 L325.70,70.70 L324.54,70.93 L323.39,71.17 L322.24,71.41 L321.09,71.65 L319.94,71.88 L318.78,72.12 L317.63,72.36 L316.48,72.60 L315.33,72.83 L314.18,73.07 L313.03,73.31 L311.88,73.54 L310.73,73.78 L309.58,74.02 L308.44,74.25 L307.29,74.49 L306.15,74.72 L305.01,74.96 L303.87,75.19 L302.74,75.43 L301.60,75.66 L300.47,75.89 L299.34,76.12 L298.22,76.36 L297.09,76.59 L295.97,76.82 L294.86,77.05 L293.74,77.28 L292.63,77.51 L291.52,77.73 L290.42,77.96 L289.32,78.19 L288.23,78.41 L287.13,78.64 L286.05,78.86 L284.96,79.09 L283.89,79.31 L282.81,79.53 L281.74,79.75 L280.68,79.97 L279.62,80.19 L278.57,80.40 L277.52,80.62 L276.48,80.83 L275.44,81.05 L274.41,81.26 L273.39,81.47 L272.37,81.68 L271.36,81.89 L270.35,82.09 L269.35,82.30 L268.36,82.50 L267.37,82.71 L266.40,82.91 L265.42,83.11 L264.46,83.31 L263.50,83.50 L262.55,83.70 L261.61,83.89 L260.68,84.08 L259.75,84.27 L258.84,84.46 L257.93,84.65 L257.03,84.83 L256.13,85.02 L255.25,85.20 L254.38,85.38 L253.51,85.56 L252.66,85.73 L251.81,85.91 L250.97,86.08 L250.14,86.25 L249.33,86.42 L248.17,86.66 L247.01,86.89 L245.86,87.13 L244.70,87.37 L243.55,87.60 L242.39,87.84 L241.24,88.08 L240.09,88.31 L238.94,88.55 L237.79,88.78 L236.64,89.02 L235.50,89.25 L234.36,89.48 L233.22,89.72 L232.08,89.95 L230.94,90.18 L229.81,90.41 L228.68,90.65 L227.55,90.88 L226.43,91.11 L225.30,91.33 L224.19,91.56 L223.07,91.79 L221.96,92.02 L220.85,92.24 L219.75,92.47 L218.65,92.69 L217.55,92.92 L216.46,93.14 L215.38,93.36 L214.29,93.58 L213.22,93.80 L212.15,94.02 L211.08,94.24 L210.02,94.46 L208.96,94.67 L207.91,94.89 L206.86,95.10 L205.82,95.31 L204.79,95.52 L203.76,95.73 L202.74,95.94 L201.72,96.15 L200.72,96.35 L199.71,96.56 L198.72,96.76 L197.73,96.96 L196.75,97.16 L195.78,97.36 L194.81,97.56 L193.85,97.75 L192.90,97.95 L191.96,98.14 L191.02,98.33 L190.09,98.52 L189.17,98.71 L188.26,98.89 L187.36,99.08 L186.47,99.26 L185.58,99.44 L184.71,99.62 L183.84,99.80 L182.98,99.97 L182.14,100.15 L181.30,100.32 L180.47,100.49 L179.65,100.65 L178.84,100.82 L178.05,100.98 L177.26,101.14 L176.48,101.30 L175.71,101.46 L174.96,101.61 L174.21,101.77 L173.48,101.92 L172.76,102.06 L172.04,102.21 L171.34,102.35 L170.65,102.49 L169.98,102.63 L169.31,102.77 L167.99,103.04 L166.71,103.31 L165.45,103.57 L164.23,103.83 L163.05,104.08 L161.90,104.32 L160.78,104.56 L159.70,104.78 L158.65,105.01 L157.63,105.22 L156.65,105.43 L155.70,105.63 L154.79,105.82 L153.91,106.00 L153.07,106.17 L152.26,106.34 L151.48,106.50 L150.74,106.64 L150.04,106.78 L149.38,106.91 L148.22,107.12 L147.26,107.28 L146.38,107.42 L145.46,107.57 L144.42,107.75 L143.49,107.91 L142.52,108.08 L141.50,108.26 L140.45,108.45 L139.39,108.65 L138.33,108.85 L137.28,109.06 L136.28,109.28 L135.14,109.53 L134.01,109.77 L132.84,110.04 L131.66,110.34 L130.45,110.70 L129.27,111.13 L128.02,111.66 L126.76,112.24 L125.49,112.92 L124.21,113.75 L123.02,114.75 L122.01,115.83 L121.15,116.97 L120.42,118.17 L119.80,119.41 L119.29,120.69 L118.93,121.93 L118.68,123.16 L118.54,124.35 L118.45,125.52 L118.40,126.67 L118.35,127.87 L118.32,128.80 L118.31,129.78 L118.32,130.80 L118.34,131.84 L118.38,132.90 L118.43,133.97 L118.48,135.04 L118.54,136.11 L118.60,137.16 L118.65,138.20 L118.71,139.19 L118.75,140.16 L118.81,141.21 L118.86,142.27 L118.92,143.34 L118.98,144.41 L119.05,145.46 L119.11,146.49 L119.18,147.50 L119.26,148.47 L119.33,149.40 L119.41,150.28Z" fill="#000" fill-rule="evenodd"/>
<path d="M718.43,162.30 L717.33,162.40 L716.22,162.51 L715.13,162.64 L714.04,162.79 L712.96,162.95 L711.90,163.12 L710.84,163.32 L709.79,163.52 L708.75,163.74 L707.72,163.98 L706.69,164.23 L705.68,164.50 L704.67,164.78 L703.68,165.07 L702.69,165.38 L701.71,165.70 L700.74,166.03 L699.78,166.38 L698.82,166.74 L697.88,167.12 L696.94,167.51 L696.01,167.91 L695.09,168.32 L694.18,168.75 L693.27,169.19 L692.38,169.64 L691.49,170.10 L690.61,170.57 L689.74,171.06 L688.88,171.55 L688.02,172.06 L687.17,172.58 L686.33,173.11 L685.50,173.65 L684.67,174.20 L683.86,174.77 L683.05,175.34 L682.24,175.92 L681.45,176.51 L680.66,177.11 L679.88,177.72 L679.11,178.34 L678.34,178.97 L677.58,179.61 L676.83,180.26 L676.08,180.91 L675.34,181.57 L674.61,182.25 L673.89,182.92 L673.17,183.61 L672.45,184.30 L671.74,185.00 L671.04,185.71 L670.35,186.42 L669.65,187.14 L668.97,187.87 L668.29,188.60 L667.61,189.33 L666.94,190.08 L666.27,190.82 L665.61,191.58 L664.96,192.33 L664.30,193.09 L663.65,193.86 L663.01,194.63 L662.37,195.40 L661.73,196.18 L661.10,196.96 L660.47,197.74 L659.84,198.53 L659.22,199.32 L658.60,200.11 L657.98,200.91 L657.37,201.70 L656.75,202.50 L656.14,203.30 L655.54,204.11 L654.93,204.91 L654.33,205.72 L653.73,206.53 L653.13,207.34 L652.53,208.15 L651.94,208.96 L651.35,209.78 L650.76,210.60 L650.17,211.41 L649.58,212.23 L648.99,213.05 L648.40,213.87 L647.82,214.69 L647.23,215.51 L646.65,216.33 L646.07,217.15 L645.49,217.97 L644.91,218.80 L644.32,219.62 L643.74,220.44 L643.16,221.26 L642.58,222.08 L642.00,222.90 L641.42,223.72 L640.84,224.54 L640.26,225.35 L639.68,226.17 L639.10,226.99 L638.51,227.80 L637.93,228.61 L637.34,229.42 L636.76,230.23 L636.17,231.04 L635.58,231.85 L635.00,232.65 L634.41,233.45 L633.81,234.25 L633.22,235.05 L632.62,235.84 L632.03,236.63 L631.43,237.42 L630.83,238.21 L630.22,238.99 L629.62,239.78 L629.01,240.55 L628.40,241.33 L627.79,242.10 L627.17,242.87 L626.55,243.63 L625.93,244.39 L625.31,245.15 L624.68,245.90 L624.05,246.65 L623.41,247.40 L622.78,248.14 L622.13,248.87 L621.49,249.60 L620.84,250.33 L620.19,251.05 L619.53,251.78 L621.18,253.30 L621.85,252.58 L622.52,251.86 L623.19,251.12 L623.85,250.39 L624.51,249.65 L625.16,248.90 L625.81,248.16 L626.45,247.40 L627.10,246.65 L627.73,245.89 L628.37,245.12 L629.00,244.36 L629.63,243.58 L630.26,242.81 L630.88,242.03 L631.50,241.25 L632.12,240.47 L632.73,239.68 L633.34,238.89 L633.95,238.10 L634.56,237.31 L635.17,236.51 L635.77,235.71 L636.37,234.91 L636.97,234.11 L637.57,233.30 L638.16,232.50 L638.76,231.69 L639.35,230.88 L639.94,230.07 L640.53,229.26 L641.12,228.44 L641.71,227.63 L642.30,226.81 L642.89,226.00 L643.47,225.18 L644.06,224.36 L644.64,223.55 L645.23,222.73 L645.81,221.91 L646.40,221.09 L646.98,220.27 L647.57,219.45 L648.15,218.64 L648.73,217.82 L649.32,217.00 L649.91,216.18 L650.49,215.37 L651.08,214.55 L651.67,213.74 L652.26,212.92 L652.85,212.11 L653.44,211.30 L654.03,210.49 L654.62,209.68 L655.22,208.88 L655.81,208.07 L656.41,207.27 L657.01,206.47 L657.61,205.67 L658.22,204.88 L658.82,204.08 L659.43,203.29 L660.04,202.50 L660.65,201.72 L661.27,200.93 L661.89,200.15 L662.51,199.38 L663.13,198.60 L663.76,197.83 L664.39,197.07 L665.02,196.30 L665.65,195.55 L666.29,194.79 L666.94,194.04 L667.58,193.30 L668.23,192.56 L668.89,191.82 L669.55,191.10 L670.21,190.37 L670.88,189.66 L671.55,188.94 L672.22,188.24 L672.90,187.54 L673.59,186.85 L674.28,186.17 L674.98,185.49 L675.68,184.82 L676.39,184.16 L677.10,183.51 L677.82,182.86 L678.54,182.22 L679.27,181.60 L680.01,180.98 L680.75,180.36 L681.50,179.76 L682.25,179.17 L683.02,178.59 L683.78,178.01 L684.56,177.45 L685.34,176.90 L686.13,176.35 L686.93,175.82 L687.73,175.30 L688.54,174.79 L689.36,174.29 L690.19,173.79 L691.02,173.32 L691.86,172.85 L692.71,172.39 L693.56,171.94 L694.42,171.51 L695.29,171.09 L696.17,170.68 L697.06,170.28 L697.95,169.89 L698.85,169.52 L699.76,169.16 L700.68,168.81 L701.60,168.48 L702.54,168.15 L703.48,167.85 L704.43,167.55 L705.39,167.27 L706.35,167.00 L707.33,166.74 L708.31,166.50 L709.31,166.28 L710.31,166.07 L711.32,165.87 L712.34,165.68 L713.37,165.52 L714.40,165.36 L715.45,165.22 L716.51,165.10 L717.57,164.99 L718.65,164.90Z" fill="#000"/>
<path d="M619.31,253.77 L619.81,254.55 L620.37,255.33 L620.95,256.10 L621.56,256.86 L622.18,257.61 L622.81,258.36 L623.44,259.11 L624.07,259.86 L624.68,260.61 L625.29,261.38 L625.88,262.15 L626.45,262.93 L627.00,263.71 L627.52,264.51 L628.00,265.31 L628.45,266.13 L628.87,266.95 L629.24,267.78 L629.57,268.62 L629.85,269.48 L630.10,270.35 L630.30,271.24 L630.47,272.13 L630.60,273.04 L630.69,273.95 L630.75,274.87 L630.78,275.81 L630.76,276.74 L630.72,277.69 L630.64,278.64 L630.54,279.59 L630.40,280.54 L630.23,281.50 L630.04,282.46 L629.82,283.41 L629.57,284.37 L629.30,285.32 L629.00,286.26 L628.69,287.21 L628.35,288.14 L627.99,289.07 L627.61,289.99 L627.21,290.90 L626.80,291.80 L626.36,292.69 L625.92,293.56 L625.46,294.42 L624.98,295.27 L624.49,296.11 L623.99,296.93 L623.47,297.73 L622.94,298.52 L622.39,299.30 L621.82,300.06 L621.24,300.81 L620.64,301.54 L620.03,302.26 L619.40,302.96 L618.76,303.65 L618.09,304.32 L617.42,304.98 L616.72,305.62 L616.01,306.25 L615.28,306.86 L614.53,307.45 L613.77,308.02 L612.99,308.58 L612.19,309.13 L611.37,309.65 L610.54,310.16 L609.68,310.65 L608.81,311.13 L607.92,311.58 L607.00,312.02 L607.88,313.82 L608.82,313.37 L609.74,312.89 L610.66,312.39 L611.55,311.87 L612.42,311.34 L613.28,310.79 L614.12,310.22 L614.95,309.64 L615.75,309.04 L616.54,308.42 L617.31,307.78 L618.07,307.13 L618.80,306.46 L619.52,305.78 L620.23,305.08 L620.91,304.37 L621.58,303.63 L622.23,302.89 L622.87,302.12 L623.49,301.34 L624.09,300.55 L624.68,299.74 L625.25,298.92 L625.80,298.08 L626.34,297.23 L626.86,296.36 L627.36,295.48 L627.85,294.58 L628.32,293.67 L628.78,292.74 L629.22,291.81 L629.64,290.86 L630.04,289.90 L630.42,288.92 L630.78,287.94 L631.12,286.95 L631.43,285.96 L631.72,284.95 L631.98,283.94 L632.22,282.93 L632.43,281.91 L632.60,280.90 L632.75,279.87 L632.87,278.85 L632.95,277.83 L633.00,276.81 L633.01,275.79 L632.99,274.78 L632.93,273.77 L632.83,272.76 L632.68,271.77 L632.50,270.78 L632.27,269.79 L632.00,268.82 L631.69,267.86 L631.33,266.92 L630.92,265.98 L630.46,265.07 L629.97,264.18 L629.45,263.30 L628.90,262.44 L628.32,261.60 L627.72,260.77 L627.11,259.96 L626.48,259.17 L625.85,258.39 L625.21,257.62 L624.58,256.87 L623.95,256.13 L623.35,255.40 L622.77,254.68 L622.22,253.96 L621.71,253.25 L621.23,252.52Z" fill="#000"/>
<path d="M607.36,312.06 L606.37,312.24 L605.39,312.41 L604.40,312.58 L603.42,312.75 L602.43,312.92 L601.45,313.09 L600.46,313.26 L599.48,313.43 L598.49,313.60 L597.50,313.76 L596.52,313.93 L595.53,314.10 L594.55,314.26 L593.56,314.42 L592.58,314.59 L591.59,314.75 L590.60,314.91 L589.62,315.07 L588.63,315.23 L587.65,315.39 L586.66,315.55 L585.67,315.71 L584.69,315.87 L583.70,316.03 L582.71,316.18 L581.73,316.34 L580.74,316.50 L579.76,316.65 L578.77,316.81 L577.78,316.96 L576.80,317.11 L575.81,317.27 L574.82,317.42 L573.83,317.57 L572.85,317.72 L571.86,317.87 L570.87,318.03 L569.89,318.18 L568.90,318.32 L567.91,318.47 L566.93,318.62 L565.94,318.77 L564.95,318.92 L563.96,319.07 L562.98,319.21 L561.99,319.36 L561.00,319.51 L560.01,319.65 L559.03,319.80 L558.04,319.94 L557.05,320.09 L556.06,320.23 L555.07,320.37 L554.09,320.52 L553.10,320.66 L552.11,320.80 L551.12,320.95 L550.13,321.09 L549.15,321.23 L548.16,321.37 L547.17,321.51 L546.18,321.66 L545.19,321.80 L544.20,321.94 L543.22,322.08 L542.23,322.22 L541.24,322.36 L540.25,322.50 L539.26,322.64 L538.27,322.78 L537.28,322.91 L536.29,323.05 L535.31,323.19 L534.32,323.33 L533.33,323.47 L532.34,323.61 L531.35,323.74 L530.36,323.88 L529.37,324.02 L528.38,324.16 L527.39,324.30 L526.40,324.43 L525.41,324.57 L524.42,324.71 L523.43,324.84 L522.44,324.98 L521.45,325.12 L520.46,325.26 L519.47,325.39 L518.48,325.53 L517.49,325.67 L516.50,325.80 L515.51,325.94 L514.52,326.08 L513.53,326.21 L512.54,326.35 L511.55,326.49 L510.56,326.62 L509.57,326.76 L508.58,326.90 L507.59,327.03 L506.60,327.17 L505.61,327.31 L504.62,327.44 L503.63,327.58 L502.64,327.72 L501.65,327.86 L500.66,327.99 L499.67,328.13 L498.68,328.27 L497.68,328.41 L496.69,328.55 L495.70,328.68 L494.71,328.82 L493.72,328.96 L492.73,329.10 L491.74,329.24 L490.75,329.38 L489.75,329.52 L488.76,329.66 L487.77,329.80 L486.78,329.94 L485.79,330.08 L484.80,330.22 L483.80,330.36 L482.81,330.50 L481.82,330.64 L480.83,330.78 L479.84,330.92 L478.84,331.07 L477.85,331.21 L476.86,331.35 L475.87,331.49 L474.88,331.64 L473.88,331.78 L472.89,331.92 L471.90,332.07 L470.91,332.21 L469.91,332.36 L468.92,332.50 L467.93,332.65 L466.94,332.80 L465.94,332.94 L464.95,333.09 L463.96,333.23 L462.97,333.38 L461.98,333.52 L460.98,333.67 L459.99,333.81 L459.00,333.96 L458.01,334.10 L457.02,334.24 L456.02,334.38 L455.03,334.52 L454.04,334.66 L453.05,334.79 L452.06,334.93 L451.07,335.06 L450.08,335.19 L449.08,335.32 L448.09,335.45 L447.10,335.58 L446.11,335.70 L445.12,335.82 L444.13,335.94 L443.14,336.06 L442.15,336.17 L441.16,336.29 L440.17,336.40 L439.18,336.50 L438.19,336.60 L437.20,336.70 L436.21,336.80 L435.22,336.89 L434.23,336.98 L433.24,337.07 L432.25,337.15 L431.26,337.23 L430.27,337.31 L429.28,337.38 L428.29,337.44 L427.30,337.51 L426.31,337.56 L425.32,337.62 L424.33,337.67 L423.34,337.71 L422.35,337.75 L421.36,337.79 L420.37,337.82 L419.39,337.84 L418.40,337.86 L417.41,337.88 L416.42,337.89 L415.43,337.89 L414.44,337.89 L413.46,337.88 L412.47,337.87 L411.48,337.85 L410.49,337.83 L409.50,337.80 L408.51,337.77 L407.52,337.73 L406.53,337.68 L405.54,337.64 L404.55,337.58 L403.56,337.53 L402.57,337.47 L401.58,337.40 L400.59,337.33 L399.60,337.26 L398.61,337.19 L397.62,337.11 L396.63,337.03 L395.63,336.95 L394.64,336.86 L393.65,336.77 L392.66,336.68 L391.67,336.59 L390.67,336.49 L389.68,336.39 L388.69,336.29 L387.69,336.19 L386.70,336.09 L385.71,335.99 L384.71,335.88 L383.72,335.78 L382.72,335.67 L381.73,335.56 L380.73,335.46 L379.74,335.35 L378.74,335.24 L377.75,335.13 L376.75,335.03 L375.76,334.92 L374.76,334.81 L373.76,334.71 L372.77,334.60 L371.77,334.50 L370.77,334.40 L369.78,334.30 L368.78,334.20 L367.78,334.10 L366.78,334.00 L365.79,333.91 L364.79,333.81 L363.79,333.72 L362.79,333.63 L361.80,333.54 L360.80,333.45 L359.80,333.36 L358.81,333.27 L357.81,333.19 L356.81,333.10 L355.81,333.02 L354.82,332.94 L353.82,332.85 L352.82,332.77 L351.83,332.69 L350.83,332.61 L349.83,332.53 L348.84,332.45 L347.84,332.38 L346.84,332.30 L345.85,332.22 L344.85,332.14 L343.85,332.07 L342.86,331.99 L341.86,331.91 L340.86,331.84 L339.87,331.76 L338.87,331.68 L337.88,331.60 L336.88,331.52 L335.89,331.44 L334.89,331.36 L333.90,331.28 L332.91,331.20 L331.91,331.11 L330.92,331.02 L329.93,330.94 L328.93,330.85 L327.94,330.76 L326.95,330.66 L325.96,330.57 L324.96,330.47 L323.97,330.37 L322.98,330.27 L321.99,330.16 L321.00,330.06 L320.01,329.94 L319.02,329.83 L318.03,329.71 L317.04,329.59 L316.05,329.47 L315.06,329.34 L314.08,329.21 L313.09,329.08 L312.10,328.94 L311.11,328.80 L310.13,328.66 L309.14,328.51 L308.15,328.35 L307.84,330.33 L308.84,330.48 L309.83,330.63 L310.82,330.78 L311.82,330.92 L312.82,331.06 L313.81,331.20 L314.81,331.33 L315.80,331.46 L316.80,331.58 L317.79,331.70 L318.79,331.82 L319.79,331.93 L320.78,332.04 L321.78,332.15 L322.77,332.26 L323.77,332.36 L324.77,332.46 L325.76,332.56 L326.76,332.65 L327.76,332.75 L328.75,332.84 L329.75,332.93 L330.75,333.02 L331.74,333.10 L332.74,333.19 L333.73,333.27 L334.73,333.35 L335.73,333.44 L336.72,333.52 L337.72,333.60 L338.72,333.67 L339.71,333.75 L340.71,333.83 L341.71,333.91 L342.70,333.98 L343.70,334.06 L344.69,334.14 L345.69,334.21 L346.69,334.29 L347.68,334.37 L348.68,334.45 L349.67,334.53 L350.67,334.61 L351.67,334.69 L352.66,334.77 L353.66,334.85 L354.65,334.93 L355.65,335.01 L356.64,335.10 L357.64,335.18 L358.63,335.27 L359.63,335.35 L360.62,335.44 L361.62,335.53 L362.61,335.62 L363.61,335.71 L364.60,335.80 L365.60,335.90 L366.59,335.99 L367.59,336.09 L368.58,336.19 L369.58,336.29 L370.57,336.39 L371.56,336.49 L372.56,336.59 L373.55,336.70 L374.55,336.80 L375.54,336.91 L376.54,337.01 L377.53,337.12 L378.53,337.23 L379.52,337.34 L380.52,337.44 L381.51,337.55 L382.51,337.66 L383.51,337.76 L384.50,337.87 L385.50,337.97 L386.49,338.08 L387.49,338.18 L388.49,338.28 L389.48,338.38 L390.48,338.48 L391.48,338.58 L392.47,338.67 L393.47,338.76 L394.47,338.85 L395.46,338.94 L396.46,339.02 L397.46,339.10 L398.46,339.18 L399.45,339.26 L400.45,339.33 L401.45,339.40 L402.45,339.46 L403.44,339.52 L404.44,339.58 L405.44,339.63 L406.44,339.68 L407.44,339.73 L408.44,339.76 L409.44,339.80 L410.44,339.83 L411.44,339.85 L412.44,339.87 L413.43,339.88 L414.43,339.89 L415.43,339.89 L416.43,339.89 L417.43,339.88 L418.43,339.86 L419.43,339.84 L420.43,339.82 L421.43,339.79 L422.43,339.75 L423.43,339.71 L424.43,339.67 L425.42,339.62 L426.42,339.56 L427.42,339.50 L428.42,339.44 L429.42,339.37 L430.41,339.30 L431.41,339.23 L432.41,339.15 L433.41,339.06 L434.40,338.98 L435.40,338.89 L436.40,338.79 L437.39,338.69 L438.39,338.59 L439.39,338.49 L440.38,338.38 L441.38,338.27 L442.37,338.16 L443.37,338.05 L444.37,337.93 L445.36,337.81 L446.36,337.69 L447.35,337.56 L448.35,337.44 L449.34,337.31 L450.34,337.18 L451.33,337.05 L452.33,336.91 L453.32,336.78 L454.32,336.64 L455.31,336.50 L456.30,336.36 L457.30,336.22 L458.29,336.08 L459.28,335.94 L460.28,335.79 L461.27,335.65 L462.26,335.50 L463.26,335.36 L464.25,335.21 L465.24,335.07 L466.24,334.92 L467.23,334.78 L468.22,334.63 L469.21,334.48 L470.20,334.34 L471.20,334.19 L472.19,334.05 L473.18,333.90 L474.17,333.76 L475.16,333.62 L476.15,333.47 L477.15,333.33 L478.14,333.19 L479.13,333.04 L480.12,332.90 L481.11,332.76 L482.10,332.62 L483.09,332.48 L484.09,332.34 L485.08,332.20 L486.07,332.06 L487.06,331.92 L488.05,331.78 L489.04,331.64 L490.03,331.50 L491.02,331.36 L492.01,331.22 L493.01,331.08 L494.00,330.94 L494.99,330.80 L495.98,330.66 L496.97,330.53 L497.96,330.39 L498.95,330.25 L499.94,330.11 L500.93,329.98 L501.92,329.84 L502.91,329.70 L503.90,329.56 L504.89,329.43 L505.89,329.29 L506.88,329.15 L507.87,329.01 L508.86,328.88 L509.85,328.74 L510.84,328.60 L511.83,328.47 L512.82,328.33 L513.81,328.19 L514.80,328.06 L515.79,327.92 L516.78,327.78 L517.77,327.65 L518.76,327.51 L519.75,327.37 L520.74,327.24 L521.73,327.10 L522.72,326.96 L523.71,326.83 L524.70,326.69 L525.69,326.55 L526.68,326.41 L527.67,326.28 L528.66,326.14 L529.65,326.00 L530.64,325.86 L531.63,325.73 L532.61,325.59 L533.60,325.45 L534.59,325.31 L535.58,325.17 L536.57,325.03 L537.56,324.90 L538.55,324.76 L539.54,324.62 L540.53,324.48 L541.52,324.34 L542.51,324.20 L543.50,324.06 L544.49,323.92 L545.47,323.78 L546.46,323.64 L547.45,323.49 L548.44,323.35 L549.43,323.21 L550.42,323.07 L551.41,322.93 L552.40,322.78 L553.38,322.64 L554.37,322.50 L555.36,322.35 L556.35,322.21 L557.34,322.07 L558.33,321.92 L559.32,321.78 L560.30,321.63 L561.29,321.48 L562.28,321.34 L563.27,321.19 L564.26,321.04 L565.25,320.90 L566.23,320.75 L567.22,320.60 L568.21,320.45 L569.20,320.30 L570.19,320.15 L571.18,320.00 L572.16,319.85 L573.15,319.70 L574.14,319.55 L575.13,319.40 L576.11,319.24 L577.10,319.09 L578.09,318.94 L579.08,318.78 L580.07,318.63 L581.05,318.47 L582.04,318.32 L583.03,318.16 L584.02,318.00 L585.00,317.84 L585.99,317.69 L586.98,317.53 L587.97,317.37 L588.95,317.21 L589.94,317.05 L590.93,316.89 L591.91,316.72 L592.90,316.56 L593.89,316.40 L594.88,316.23 L595.86,316.07 L596.85,315.90 L597.84,315.74 L598.82,315.57 L599.81,315.40 L600.80,315.23 L601.78,315.06 L602.77,314.89 L603.76,314.72 L604.75,314.55 L605.73,314.38 L606.72,314.21 L607.70,314.03Z" fill="#000"/>
<circle cx="607.5" cy="312.9" r="1.0" fill="#000"/>
<circle cx="620.6" cy="252.9" r="1.15" fill="#000"/>
<path d="M357.60,320.30 L365.40,321.60 L364.08,328.90 L356.28,327.60Z" fill="#fff"/>
<path d="M365.40,321.60 L373.20,322.90 L371.88,330.20 L364.08,328.90Z" fill="#000"/>
<path d="M356.28,327.60 L364.08,328.90 L362.77,336.20 L354.97,334.90Z" fill="#000"/>
<path d="M364.08,328.90 L371.88,330.20 L370.57,337.50 L362.77,336.20Z" fill="#fff"/>
<path d="M354.97,334.90 L362.77,336.20 L361.45,343.50 L353.65,342.20Z" fill="#fff"/>
<path d="M362.77,336.20 L370.57,337.50 L369.25,344.80 L361.45,343.50Z" fill="#000"/>
<path d="M353.65,342.20 L361.45,343.50 L360.13,350.80 L352.33,349.50Z" fill="#000"/>
<path d="M361.45,343.50 L369.25,344.80 L367.93,352.10 L360.13,350.80Z" fill="#fff"/>
<path d="M352.33,349.50 L360.13,350.80 L358.82,358.10 L351.02,356.80Z" fill="#fff"/>
<path d="M360.13,350.80 L367.93,352.10 L366.62,359.40 L358.82,358.10Z" fill="#000"/>
<path d="M351.02,356.80 L358.82,358.10 L357.50,365.40 L349.70,364.10Z" fill="#000"/>
<path d="M358.82,358.10 L366.62,359.40 L365.30,366.70 L357.50,365.40Z" fill="#fff"/>
<path d="M357.60,320.30 L373.20,322.90 L365.30,366.70 L349.70,364.10Z" fill="none" stroke="#000" stroke-width="1"/>
<path d="M309,171 L359.8,189 L350.8,204.6 Z" fill="#000"/>
<path d="M372.9,166.9 L387.2,166.7 L428.5,219.3 L428.5,174 Q428.3,170.2 424,169.9 L419.9,169.8 L419.9,166.65 L440.9,166.65 L440.9,169.8 L436.5,169.9 Q432.9,170.3 432.8,174 L432.6,230.9 Q430,230.6 427.7,229.4 Q426.4,228.8 425.4,227.9 L384.8,177.2 L385.1,222.5 Q385.6,226.5 389.5,226.7 L393,226.7 L393,229.8 L372.9,229.8 L372.9,226.7 L376.5,226.6 Q380.3,226.4 380.6,222.5 L380.8,175 Q380.8,170.2 377,169.9 L372.9,169.8 Z" fill="#000"/>
<circle cx="217.4" cy="273.9" r="13.6" fill="none" stroke="#000" stroke-width="1.15"/>
<text x="217.4" y="282.7" text-anchor="middle" font-family="Liberation Serif" font-size="28" fill="#000">1</text>
<circle cx="177" cy="186.5" r="13.6" fill="none" stroke="#000" stroke-width="1.15"/>
<text x="177" y="195.3" text-anchor="middle" font-family="Liberation Serif" font-size="28" fill="#000">2</text>
<circle cx="101.4" cy="166" r="13.6" fill="none" stroke="#000" stroke-width="1.15"/>
<text x="101.4" y="174.8" text-anchor="middle" font-family="Liberation Serif" font-size="28" fill="#000">3</text>
<circle cx="99.2" cy="109.6" r="13.6" fill="none" stroke="#000" stroke-width="1.15"/>
<text x="99.2" y="118.39999999999999" text-anchor="middle" font-family="Liberation Serif" font-size="28" fill="#000">4</text>
<circle cx="647" cy="39.6" r="13.6" fill="none" stroke="#000" stroke-width="1.15"/>
<text x="647" y="48.400000000000006" text-anchor="middle" font-family="Liberation Serif" font-size="28" fill="#000">5</text>
<circle cx="639" cy="131.4" r="13.6" fill="none" stroke="#000" stroke-width="1.15"/>
<text x="639" y="140.20000000000002" text-anchor="middle" font-family="Liberation Serif" font-size="28" fill="#000">6</text>
<circle cx="771.1" cy="72" r="13.6" fill="none" stroke="#000" stroke-width="1.15"/>
<text x="771.1" y="80.8" text-anchor="middle" font-family="Liberation Serif" font-size="28" fill="#000">7</text>
<circle cx="862.3" cy="122.5" r="13.6" fill="none" stroke="#000" stroke-width="1.15"/>
<text x="862.3" y="131.3" text-anchor="middle" font-family="Liberation Serif" font-size="28" fill="#000">8</text>
<circle cx="732.3" cy="188" r="13.6" fill="none" stroke="#000" stroke-width="1.15"/>
<text x="732.3" y="196.8" text-anchor="middle" font-family="Liberation Serif" font-size="28" fill="#000">9</text>
<circle cx="672.7" cy="248.3" r="13.6" fill="none" stroke="#000" stroke-width="1.15"/>
<text x="0" y="0" text-anchor="middle" font-family="Liberation Serif" font-size="26.5" fill="#000" stroke="#000" stroke-width="0.45" transform="translate(672.7,256.6) scale(0.86,1)">10</text>
<circle cx="602.7" cy="367" r="13.6" fill="none" stroke="#000" stroke-width="1.15"/>
<text x="0" y="0" text-anchor="middle" font-family="Liberation Serif" font-size="26.5" fill="#000" stroke="#000" stroke-width="0.45" transform="translate(602.7,375.3) scale(0.86,1)">11</text>
<path d="M662.8,450 L662.8,475.3 L861,475.3 L861,450" fill="none" stroke="#000" stroke-width="2.3"/>
<text x="762.4" y="464.2" text-anchor="middle" font-family="Liberation Serif" font-size="13.8" fill="#111" stroke="#111" stroke-width="0.25">1033ft (315m)</text>
</svg>
</body></html>
